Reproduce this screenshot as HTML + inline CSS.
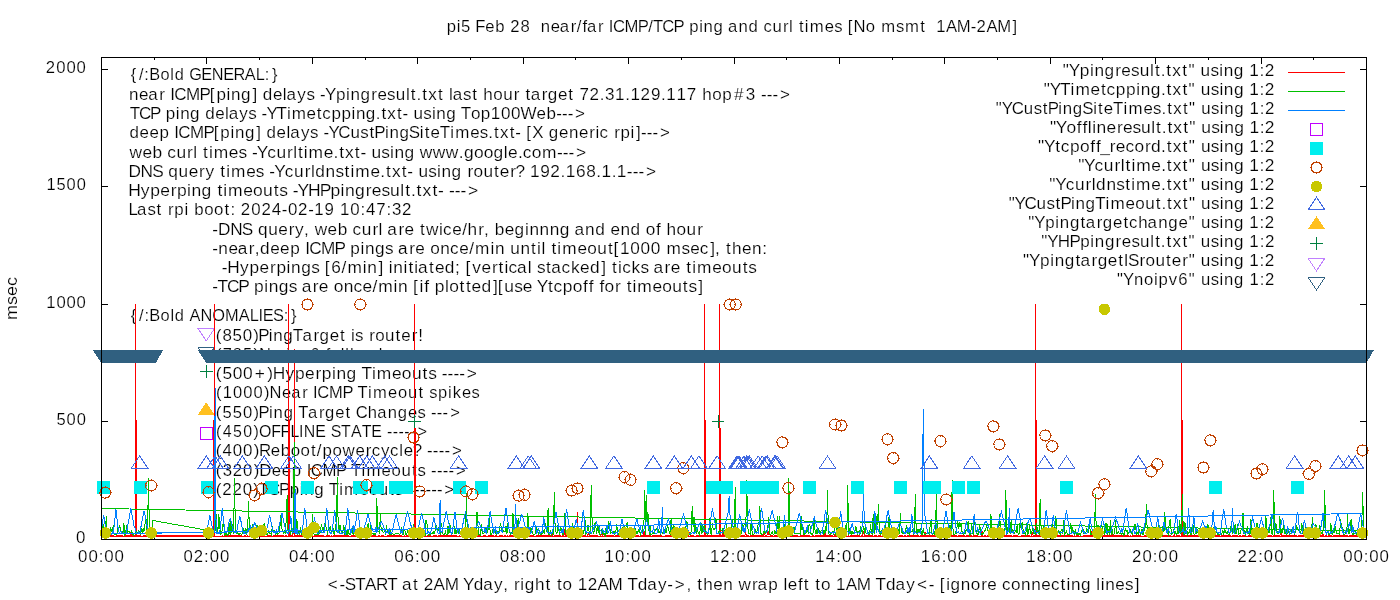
<!DOCTYPE html>
<html><head><meta charset="utf-8"><style>
html,body{margin:0;padding:0;background:#fff;width:1400px;height:600px;overflow:hidden}
svg{display:block}
text{font-family:"Liberation Sans",sans-serif;font-size:16px;fill:#000;stroke:#fff;stroke-width:0.17px}
</style></head><body>
<svg width="1400" height="600" viewBox="0 0 1400 600">
<rect width="1400" height="600" fill="#fff"/>
<g id="txt" opacity="0.999">
<text transform="scale(1.0433,1)" x="428.20 437.74 441.97 451.53 455.64 465.21 474.80 484.19 489.03 498.92 508.42 513.27 518.33 527.84 536.60 547.05 552.90 558.35 562.70 573.16 578.86 583.53 587.46 598.56 611.30 621.33 625.89 634.88 645.58 655.46 660.59 670.12 674.42 683.97 693.54 697.84 707.94 717.48 727.06 731.72 740.43 750.51 756.35 760.45 765.82 771.41 776.10 790.42 799.60 807.66 812.47 818.17 829.87 839.18 844.62 858.75 867.41 882.18 887.63 892.48 897.44 906.69 917.16 930.48 936.09 945.46 955.93 970.51" y="32" xml:space="preserve">pi5 Feb 28  near/far ICMP/TCP ping and curl times [No msmt  1AM-2AM]</text>
<text transform="scale(1.0696,1)" x="306.48 317.49 322.37 332.09 341.36 351.51 361.97 371.60 375.79 386.09 391.46 396.19 405.41 415.70 429.00 432.86 443.01 451.89 461.95 470.41 475.33 480.65 486.43 490.51 500.13 510.01 515.38 520.67 526.02 535.22 540.07 549.51 558.73 569.02 582.32 586.63 596.33 605.21 615.27 623.76 630.74 641.72 646.65 651.93 657.46 666.86 676.23 685.57 690.53 703.16 708.21 718.24 727.52 732.44 736.50 746.15 751.51 756.87 762.16 767.52 776.72 781.57 790.67 800.97 814.27 818.58 828.27 837.15 847.21 857.27 868.28 873.82 878.54 884.60 888.68 898.33 907.65 917.39 923.06 932.26 936.81 945.27 954.65 964.16 973.54 982.52 991.51 997.03 1001.22 1010.63 1020.09 1025.01 1029.19 1033.38 1042.76 1051.81 1060.91" y="590" xml:space="preserve">&lt;-START at 2AM Yday, right to 12AM Tday-&gt;, then wrap left to 1AM Tday&lt;- [ignore connecting lines]</text>
<text transform="scale(1.0541,1)" x="72.04" y="543" xml:space="preserve">0</text>
<text transform="scale(1.0345,1)" x="54.57 64.36 74.10" y="425" xml:space="preserve">500</text>
<text transform="scale(1.0432,1)" x="44.40 54.14 63.79 73.45" y="308" xml:space="preserve">1000</text>
<text transform="scale(1.0281,1)" x="45.12 54.94 64.80 74.59" y="190" xml:space="preserve">1500</text>
<text transform="scale(1.0450,1)" x="43.88 53.81 63.55 73.28" y="73" xml:space="preserve">2000</text>
<text transform="scale(1.0555,1)" x="73.99 83.77 93.48 98.72 108.50" y="562" xml:space="preserve">00:00</text>
<text transform="scale(1.0467,1)" x="175.35 185.01 194.98 200.29 210.15" y="562" xml:space="preserve">02:00</text>
<text transform="scale(1.0555,1)" x="273.74 283.51 293.23 298.47 308.25" y="562" xml:space="preserve">04:00</text>
<text transform="scale(1.0640,1)" x="370.58 380.28 389.93 395.11 404.81" y="562" xml:space="preserve">06:00</text>
<text transform="scale(1.0581,1)" x="472.28 482.04 491.73 496.95 506.71" y="562" xml:space="preserve">08:00</text>
<text transform="scale(1.0451,1)" x="578.41 588.52 598.43 603.87 613.90" y="562" xml:space="preserve">10:00</text>
<text transform="scale(1.0360,1)" x="685.25 695.24 705.43 710.93 721.06" y="562" xml:space="preserve">12:00</text>
<text transform="scale(1.0452,1)" x="780.03 790.14 800.05 805.49 815.53" y="562" xml:space="preserve">14:00</text>
<text transform="scale(1.0538,1)" x="873.72 883.76 893.60 898.98 908.93" y="562" xml:space="preserve">16:00</text>
<text transform="scale(1.0478,1)" x="979.34 989.42 999.31 1004.73 1014.74" y="562" xml:space="preserve">18:00</text>
<text transform="scale(1.0467,1)" x="1081.43 1091.52 1101.31 1106.64 1116.52" y="562" xml:space="preserve">20:00</text>
<text transform="scale(1.0378,1)" x="1192.34 1202.31 1212.37 1217.76 1227.73" y="562" xml:space="preserve">22:00</text>
<text transform="scale(1.0555,1)" x="1272.52 1282.29 1292.01 1297.25 1307.03" y="562" xml:space="preserve">00:00</text>
<text transform="scale(1.0194,1)" x="128.36 136.38 141.63 146.46 157.48 167.08 171.41 181.16 185.66 197.46 207.81 218.95 229.14 240.06 250.95 259.81 266.95" y="80" xml:space="preserve">{/:Bold GENERAL:}</text>
<text transform="scale(1.0661,1)" x="120.93 130.35 139.00 149.37 155.02 159.64 163.49 174.46 187.09 196.85 203.04 212.50 216.73 226.17 236.81 241.56 246.42 255.97 265.34 268.81 278.91 287.42 295.41 300.09 304.74 315.11 324.58 328.81 338.25 348.30 354.00 363.09 371.21 380.79 385.35 390.74 396.06 401.71 410.90 416.29 421.23 424.70 434.38 442.89 448.28 453.24 462.63 471.99 481.97 487.62 492.93 497.75 508.12 513.84 523.39 533.14 538.53 543.46 552.89 562.51 567.50 576.99 586.49 591.38 600.86 610.60 620.07 624.96 634.55 644.20 653.65 658.61 668.00 677.48 688.50 699.63 709.03 713.71 719.15 724.59 731.62" y="100" xml:space="preserve">near ICMP[ping] delays -Ypingresult.txt last hour target 72.31.129.117 hop#3 ---&gt;</text>
<text transform="scale(1.0662,1)" x="121.62 130.37 140.80 150.52 155.45 164.82 168.95 178.26 187.65 192.41 201.81 211.09 214.46 224.43 232.80 240.71 245.31 249.85 259.38 269.10 273.54 287.55 297.19 302.27 310.89 320.32 329.69 333.82 343.13 352.51 357.75 363.29 372.37 377.56 383.04 387.85 397.02 405.08 409.20 418.51 427.90 432.14 441.66 451.00 460.27 469.81 479.26 488.23 503.28 512.62 521.72 527.08 532.44 539.33" y="119" xml:space="preserve">TCP ping delays -YTimetcpping.txt- using Top100Web---&gt;</text>
<text transform="scale(1.0588,1)" x="122.20 131.78 141.09 150.61 159.95 164.59 168.46 179.47 192.13 201.92 208.13 217.62 221.87 231.34 242.01 246.77 251.66 261.24 270.64 274.13 284.26 292.79 300.81 305.50 310.18 319.55 331.01 340.34 348.87 353.58 363.56 367.81 377.28 386.17 396.56 401.14 406.60 415.41 425.25 429.86 444.09 453.21 461.22 466.56 472.23 481.45 486.74 492.32 497.08 502.67 513.40 518.29 527.86 537.31 546.76 556.57 562.39 566.24 574.76 580.12 586.05 595.54 600.74 605.38 610.84 616.30 623.36" y="138" xml:space="preserve">deep ICMP[ping] delays -YCustPingSiteTimes.txt- [X generic rpi]---&gt;</text>
<text transform="scale(1.0848,1)" x="119.45 131.37 140.62 149.78 154.21 162.62 172.39 178.08 182.02 187.21 192.63 196.99 210.90 219.79 227.63 232.19 236.67 246.37 254.78 264.55 270.24 274.69 280.11 284.47 298.38 307.43 312.63 318.10 327.11 332.25 337.69 342.44 351.52 359.53 363.59 372.81 382.13 386.93 398.97 411.01 422.93 427.64 436.90 445.91 455.00 464.47 468.40 477.46 481.89 490.18 499.67 513.46 518.77 524.08 530.90" y="158" xml:space="preserve">web curl times -Ycurltime.txt- using www.google.com---&gt;</text>
<text transform="scale(1.0791,1)" x="118.98 130.26 141.07 151.20 155.97 165.47 174.83 184.50 190.35 198.91 204.15 209.63 214.09 228.13 237.11 245.03 249.64 254.20 263.99 272.50 282.38 288.11 292.15 301.71 310.83 319.25 324.73 329.20 343.23 352.37 357.62 363.17 372.27 377.47 382.96 387.79 396.97 405.04 409.18 418.51 427.91 433.17 438.73 447.96 457.82 463.16 472.83 477.76 486.32 491.11 500.62 509.94 519.46 524.26 533.81 543.29 552.61 557.40 566.81 571.61 580.90 586.28 591.65 598.56" y="177" xml:space="preserve">DNS query times -Ycurldnstime.txt- using router? 192.168.1.1---&gt;</text>
<text transform="scale(1.0939,1)" x="117.14 128.77 137.41 146.52 156.07 161.78 171.06 175.10 184.29 193.59 198.76 204.16 208.49 222.35 231.33 240.43 250.17 255.24 263.06 267.60 272.05 281.60 292.22 302.04 311.32 315.36 324.55 334.36 339.87 348.72 356.61 366.00 370.42 375.67 380.84 386.29 395.27 400.39 405.81 410.35 415.64 420.94 427.72" y="196" xml:space="preserve">Hyperping timeouts -YHPpingresult.txt- ---&gt;</text>
<text transform="scale(1.0541,1)" x="121.96 130.02 139.84 148.46 153.94 159.38 165.41 174.98 179.09 184.26 193.71 203.09 212.96 218.59 223.60 228.47 238.42 247.97 257.91 267.34 273.19 282.73 292.36 298.13 307.91 317.49 322.49 332.32 342.01 347.22 356.94 366.66 371.90 381.42" y="215" xml:space="preserve">Last rpi boot: 2024-02-19 10:47:32</text>
<text transform="scale(1.0768,1)" x="197.12 202.46 213.76 224.60 234.74 239.53 249.06 258.44 268.13 273.99 282.41 287.30 292.21 304.27 313.66 322.90 327.42 335.95 345.84 351.59 355.58 359.73 370.00 375.63 384.79 390.04 395.55 407.74 411.50 419.95 429.25 434.28 444.13 449.58 454.47 459.44 468.71 477.92 487.49 491.65 501.10 510.56 519.91 529.33 533.47 543.38 552.72 562.14 566.91 576.23 585.57 594.99 599.71 609.31 614.12 619.00 628.29 637.54 647.44" y="235" xml:space="preserve">-DNS query, web curl are twice/hr, beginnng and end of hour</text>
<text transform="scale(1.0740,1)" x="197.63 203.34 212.71 221.32 231.64 237.11 242.09 251.59 260.82 270.26 279.54 284.13 287.94 298.85 311.42 321.20 326.21 335.64 339.83 349.23 358.54 366.50 370.69 381.01 386.67 395.86 400.61 409.98 419.10 427.60 436.94 442.37 456.62 460.81 470.14 475.02 484.59 494.44 499.96 504.12 508.14 513.43 518.95 523.48 537.61 546.79 556.10 566.01 571.33 577.30 586.93 596.48 606.02 615.41 620.70 634.64 642.64 651.62 661.22 665.78 670.71 675.99 681.51 690.90 700.27 709.75" y="254" xml:space="preserve">-near,deep ICMP pings are once/min until timeout[1000 msec], then:</text>
<text transform="scale(1.0800,1)" x="205.31 210.51 222.32 231.12 240.40 250.10 255.93 265.33 269.49 278.85 288.12 296.06 300.75 306.78 316.27 321.66 335.86 340.02 350.46 355.15 360.05 364.21 373.67 378.18 383.67 387.07 397.33 402.70 411.91 421.19 426.37 431.07 437.21 445.81 455.51 461.63 467.12 470.89 478.73 488.63 492.63 497.22 505.67 510.42 519.94 528.65 537.05 546.27 556.82 561.52 566.78 572.28 576.05 584.76 592.98 600.91 605.06 615.34 620.97 630.14 635.40 640.89 645.39 659.46 668.60 677.86 687.74 692.93" y="273" xml:space="preserve">-Hyperpings [6/min] initiated; [vertical stacked] ticks are timeouts</text>
<text transform="scale(1.0871,1)" x="195.21 200.16 208.84 219.20 228.87 233.76 243.08 247.16 256.40 265.57 273.43 277.50 287.68 293.22 302.30 306.94 316.15 325.12 333.48 342.70 347.97 362.06 366.13 375.35 379.98 385.95 390.33 395.09 399.97 409.29 413.18 422.77 428.56 433.83 442.94 453.40 457.97 463.86 472.97 480.82 489.90 493.64 504.11 509.14 517.70 526.81 536.33 541.52 546.28 551.41 556.11 565.71 571.25 576.45 581.89 586.27 600.20 609.22 618.37 628.16 633.26 642.25" y="292" xml:space="preserve">-TCP pings are once/min [if plotted][use Ytcpoff for timeouts]</text>
<text transform="scale(1.0240,1)" x="127.78 135.79 141.03 145.85 156.86 166.44 170.77 180.51 185.18 195.88 207.38 219.77 233.12 244.00 252.52 256.57 266.55 277.14 284.27" y="321" xml:space="preserve">{/:Bold ANOMALIES:}</text>
<text transform="scale(1.0611,1)" x="203.37 209.71 219.22 228.85 238.77 243.41 253.36 257.57 266.99 276.02 285.09 295.44 301.15 310.67 320.41 325.79 330.72 334.61 342.59 347.92 353.55 362.89 372.82 378.25 388.01 394.28" y="341" xml:space="preserve">(850)PingTarget is router!</text>
<text transform="scale(1.0251,1)" x="210.61 217.20 227.15 237.01 247.27 252.63 264.57 274.04 279.14 283.68 293.59 302.71 312.38 317.81 322.32 332.52 336.85 341.40 350.45 360.36 369.48" y="360" xml:space="preserve">(785)No ipv6 fallback</text>
<text transform="scale(1.0856,1)" x="198.72 204.91 214.43 223.90 234.65 246.19 251.16 262.93 271.70 280.94 290.61 296.41 305.79 309.92 319.24 328.64 332.89 342.61 347.07 361.09 370.19 379.42 389.27 394.43 402.34 406.95 412.32 417.69 423.05 429.96" y="379" xml:space="preserve">(500+)Hyperping Timeouts ----&gt;</text>
<text transform="scale(1.0330,1)" x="209.00 215.53 225.53 235.44 245.36 255.55 260.90 272.89 281.85 292.50 298.31 303.09 307.19 318.55 331.57 341.59 346.17 356.21 361.11 375.70 385.24 394.91 405.12 410.69 415.56 424.11 433.80 438.38 447.14 456.52" y="398" xml:space="preserve">(1000)Near ICMP Timeout spikes</text>
<text transform="scale(1.0392,1)" x="207.72 214.19 224.00 233.87 243.98 248.82 258.92 263.30 272.95 282.62 287.12 296.41 306.96 312.84 322.61 332.53 338.04 342.24 353.93 362.95 373.17 382.83 392.59 401.87 410.01 414.80 420.37 425.93 433.16" y="418" xml:space="preserve">(550)Ping Target Changes ---&gt;</text>
<text transform="scale(0.9968,1)" x="216.69 223.54 233.70 243.98 254.41 259.91 272.17 281.41 291.31 300.02 304.84 316.33 327.11 331.73 342.10 352.04 362.90 372.39 383.16 388.17 393.97 399.77 405.56 411.36 418.97" y="437" xml:space="preserve">(450)OFFLINE STATE -----&gt;</text>
<text transform="scale(1.0575,1)" x="204.07 210.50 220.18 229.87 239.88 244.86 255.95 265.53 274.92 284.24 294.06 299.65 304.91 314.31 323.85 336.13 345.99 351.49 360.36 368.87 377.57 381.73 390.41 399.11 403.83 409.33 414.82 420.31 427.43" y="456" xml:space="preserve">(400)Reboot/powercycle? ----&gt;</text>
<text transform="scale(1.0489,1)" x="205.77 212.28 221.81 231.77 241.83 247.23 259.18 268.62 278.27 287.70 292.40 296.37 307.54 320.36 330.28 334.74 344.67 349.41 363.80 373.18 382.70 392.78 398.15 406.25 411.01 416.55 422.08 427.61 434.79" y="476" xml:space="preserve">(320)Deep ICMP Timeouts ----&gt;</text>
<text transform="scale(1.0566,1)" x="204.23 210.39 219.99 229.79 239.73 244.66 253.55 264.14 274.21 283.68 287.91 297.36 306.87 311.21 321.03 325.62 339.81 349.05 358.41 368.36 373.62 381.62 386.30 391.75 397.19 402.63 408.08 413.52 420.55" y="495" xml:space="preserve">(220)TCPping Timeouts ------&gt;</text>
<text transform="scale(1.0776,1)" x="986.26 991.77 1002.06 1011.48 1015.65 1025.01 1034.98 1040.62 1049.64 1057.69 1067.21 1071.73 1077.08 1082.35 1087.94 1097.06 1102.86 1109.29 1114.15 1123.37 1131.47 1135.64 1145.00 1154.44 1159.26 1168.85 1173.70" y="76" xml:space="preserve">"Ypingresult.txt" using 1:2</text>
<text transform="scale(1.0802,1)" x="966.33 971.81 981.36 991.09 995.55 1009.60 1019.25 1024.35 1032.99 1042.44 1051.83 1055.97 1065.30 1074.70 1079.95 1085.51 1094.60 1100.37 1106.78 1111.61 1120.80 1128.87 1133.01 1142.34 1151.74 1156.53 1166.10 1170.92" y="95" xml:space="preserve">"YTimetcpping.txt" using 1:2</text>
<text transform="scale(1.0526,1)" x="946.11 951.75 961.17 972.68 982.05 990.62 995.36 1005.37 1009.65 1019.17 1028.10 1038.52 1043.12 1048.62 1057.47 1067.34 1072.00 1086.29 1095.45 1103.49 1108.85 1114.56 1123.80 1129.70 1136.23 1141.20 1150.57 1158.76 1163.05 1172.56 1182.12 1187.06 1196.77 1201.73" y="114" xml:space="preserve">"YCustPingSiteTimes.txt" using 1:2</text>
<text transform="scale(1.0893,1)" x="963.90 969.24 979.08 988.55 993.70 998.57 1002.65 1006.67 1015.81 1025.35 1030.84 1039.68 1047.55 1056.93 1061.34 1066.57 1071.74 1077.17 1086.14 1091.80 1098.11 1102.82 1111.86 1119.83 1123.86 1133.03 1142.31 1146.98 1156.42 1161.12" y="133" xml:space="preserve">"Yofflineresult.txt" using 1:2</text>
<text transform="scale(1.0827,1)" x="958.73 964.17 974.68 979.75 988.35 997.50 1007.06 1012.28 1016.22 1025.00 1030.58 1039.46 1047.80 1057.44 1063.05 1072.42 1077.65 1083.18 1092.24 1097.98 1104.36 1109.16 1118.31 1126.36 1130.47 1139.76 1149.13 1153.89 1163.42 1168.21" y="152" xml:space="preserve">"Ytcpoff_record.txt" using 1:2</text>
<text transform="scale(1.0846,1)" x="994.09 999.51 1009.25 1017.70 1027.52 1033.23 1037.70 1043.14 1047.55 1061.51 1070.60 1075.81 1081.32 1090.37 1096.09 1102.46 1107.24 1116.37 1124.40 1128.49 1137.76 1147.11 1151.85 1161.37 1166.13" y="171" xml:space="preserve">"Ycurltime.txt" using 1:2</text>
<text transform="scale(1.0783,1)" x="973.06 978.54 988.34 996.85 1006.72 1012.46 1016.49 1026.05 1035.18 1043.60 1049.08 1053.55 1067.59 1076.72 1081.97 1087.53 1096.62 1102.39 1108.80 1113.62 1122.81 1130.88 1135.02 1144.34 1153.75 1158.53 1168.10 1172.91" y="190" xml:space="preserve">"Ycurldnstime.txt" using 1:2</text>
<text transform="scale(1.0649,1)" x="947.21 952.76 962.06 973.45 982.71 991.20 995.84 1005.78 1009.98 1019.39 1028.40 1038.18 1042.73 1056.87 1066.06 1075.38 1085.31 1090.67 1095.97 1101.59 1110.75 1116.57 1123.03 1127.92 1137.18 1145.30 1149.50 1158.91 1168.38 1173.23 1182.86 1187.74" y="209" xml:space="preserve">"YCustPingTimeout.txt" using 1:2</text>
<text transform="scale(1.0555,1)" x="974.18 979.84 990.30 999.83 1004.12 1013.65 1023.74 1028.63 1039.07 1044.86 1054.50 1064.32 1069.57 1078.32 1087.22 1097.31 1106.84 1116.48 1126.24 1132.78 1137.76 1147.14 1155.34 1159.63 1169.16 1178.73 1183.68 1193.40 1198.37" y="228" xml:space="preserve">"Ypingtargetchange" using 1:2</text>
<text transform="scale(1.0619,1)" x="980.66 986.28 996.16 1007.12 1017.23 1026.73 1030.99 1040.48 1050.57 1056.30 1065.44 1073.60 1083.21 1087.80 1093.21 1098.56 1104.25 1113.47 1119.35 1125.86 1130.81 1140.15 1148.33 1152.59 1162.07 1171.61 1176.53 1186.22 1191.16" y="247" xml:space="preserve">"YHPpingresult.txt" using 1:2</text>
<text transform="scale(1.0719,1)" x="954.48 960.01 970.32 979.74 983.92 993.30 1003.27 1008.04 1018.35 1024.03 1033.51 1043.21 1048.40 1052.33 1063.03 1068.63 1077.93 1087.83 1093.22 1102.94 1109.01 1115.46 1120.33 1129.56 1137.67 1141.85 1151.23 1160.68 1165.52 1175.12 1179.98" y="266" xml:space="preserve">"YpingtargetISrouter" using 1:2</text>
<text transform="scale(1.0440,1)" x="1070.00 1075.74 1086.25 1095.81 1105.33 1109.78 1119.57 1128.57 1138.62 1145.23 1150.30 1159.78 1168.05 1172.42 1182.06 1191.72 1196.75 1206.56 1211.61" y="285" xml:space="preserve">"Ynoipv6" using 1:2</text>
<text transform="translate(17,320.00) rotate(-90)" textLength="43.00" lengthAdjust="spacingAndGlyphs" xml:space="preserve">msec</text>
</g>
<g id="ticks" shape-rendering="crispEdges"><path d="M101 539.5h7M1366 539.5h-6 M101 421.5h7M1366 421.5h-6 M101 304.5h7M1366 304.5h-6 M101 186.5h7M1366 186.5h-6 M101 69.5h7M1366 69.5h-6 M101.5 539v-7M101.5 57v7 M154.5 539v-3M154.5 57v3 M206.5 539v-7M206.5 57v7 M259.5 539v-3M259.5 57v3 M312.5 539v-7M312.5 57v7 M365.5 539v-3M365.5 57v3 M417.5 539v-7M417.5 57v7 M470.5 539v-3M470.5 57v3 M523.5 539v-7M523.5 57v7 M575.5 539v-3M575.5 57v3 M628.5 539v-7M628.5 57v7 M681.5 539v-3M681.5 57v3 M734.5 539v-7M734.5 57v7 M786.5 539v-3M786.5 57v3 M839.5 539v-7M839.5 57v7 M892.5 539v-3M892.5 57v3 M944.5 539v-7M944.5 57v7 M997.5 539v-3M997.5 57v3 M1050.5 539v-7M1050.5 57v7 M1102.5 539v-3M1102.5 57v3 M1155.5 539v-7M1155.5 57v7 M1208.5 539v-3M1208.5 57v3 M1261.5 539v-7M1261.5 57v7 M1313.5 539v-3M1313.5 57v3 M1366.5 539v-7M1366.5 57v7" stroke="#000"/></g>
<g id="lbl" shape-rendering="crispEdges"><path d="M1288 72.3H1345" stroke="#ff0000"/>
<path d="M1288 91.3H1345" stroke="#00c000"/>
<path d="M1288 110.4H1345" stroke="#0080ff"/>
<rect x="1310.75" y="123.64" width="11.5" height="11.5" fill="none" stroke="#c000ff"/>
<rect x="1310.25" y="142.17" width="12.5" height="12.5" fill="#00eeee"/>
<circle cx="1316.5" cy="167.45" r="5.5" fill="none" stroke="#c04000"/><path d="M1310.0 167.45h2M1321.0 167.45h2M1316.5 160.9v2M1316.5 171.9v2" stroke="#c04000"/>
<circle cx="1316.5" cy="186.48000000000002" r="5.8" fill="#c8c800"/>
<polygon points="1316.5,197.18 1308.17,209.68 1324.83,209.68" fill="none" stroke="#4169e1"/>
<polygon points="1316.5,216.21 1308.17,228.71 1324.83,228.71" fill="#ffc020"/>
<path d="M1310.25 243.57H1322.75M1316.5 237.32V249.82" stroke="#008040"/>
<polygon points="1316.5,270.93 1308.17,258.43 1324.83,258.43" fill="none" stroke="#c080ff"/>
<polygon points="1316.5,289.96 1308.17,277.46 1324.83,277.46" fill="none" stroke="#306080"/>
<polygon points="206.25,340.83 197.92,328.33 214.58,328.33" fill="none" stroke="#c080ff"/>
<polygon points="206.25,359.63 197.92,347.13 214.58,347.13" fill="none" stroke="#306080"/>
<path d="M200.00 371.7H212.50M206.25 365.45V377.95" stroke="#008040"/>
<polygon points="206.25,402.27 197.92,414.77 214.58,414.77" fill="#ffc020"/>
<rect x="200.50" y="427.65" width="11.5" height="11.5" fill="none" stroke="#c000ff"/></g>
<g id="data" shape-rendering="crispEdges">
<polyline points="101.0,535.1 101.9,535.2 102.8,536.0 103.6,535.7 104.5,536.2 105.4,536.2 106.3,536.2 107.1,535.7 108.0,535.1 108.9,535.9 109.8,535.7 110.7,536.0 111.5,535.2 112.4,535.3 113.3,535.5 114.2,536.3 115.1,535.9 115.9,536.2 116.8,535.5 117.7,536.3 118.6,535.9 119.4,535.2 120.3,535.2 121.2,535.5 122.1,535.2 123.0,536.0 123.8,536.2 124.7,535.9 125.6,535.8 126.5,535.8 127.4,535.2 128.2,535.5 129.1,535.4 130.0,535.6 130.9,532.4 131.7,536.2 132.6,535.7 133.5,536.2 134.4,535.5 135.3,535.2 136.1,535.5 137.0,536.4 137.9,535.6 138.8,535.9 139.7,536.0 140.5,535.5 141.4,536.2 142.3,536.3 143.2,535.9 144.0,535.5 144.9,536.1 145.8,535.9 146.7,535.7 147.6,535.2 148.4,535.4 149.3,536.0 150.2,536.4 151.1,536.2 152.0,535.7 152.8,535.4 206.4,535.4 207.3,535.4 208.2,536.2 209.1,535.9 209.9,535.3 210.8,535.4 211.7,533.6 212.6,535.2 213.4,536.4 214.3,533.0 215.2,536.3 216.1,536.3 217.0,536.3 217.8,536.2 218.7,536.1 219.6,536.1 220.5,536.1 221.4,536.3 222.2,535.8 223.1,536.2 224.0,536.2 224.9,535.3 225.7,535.4 226.6,535.2 227.5,536.0 228.4,535.8 229.3,536.2 230.1,535.5 231.0,535.2 231.9,535.8 232.8,535.7 233.6,535.4 234.5,535.4 235.4,535.9 236.3,535.3 237.2,535.7 238.0,536.4 238.9,535.8 239.8,535.7 240.7,536.1 241.6,535.4 242.4,536.1 243.3,536.3 244.2,535.9 245.1,535.8 245.9,535.7 246.8,536.4 247.7,535.8 248.6,536.1 249.5,535.5 250.3,535.6 251.2,535.5 252.1,535.6 253.0,535.1 253.9,536.2 254.7,535.1 255.6,535.7 256.5,535.2 257.4,535.7 258.2,535.2 259.1,535.4 260.0,535.7 260.9,535.6 261.8,535.9 262.6,535.7 263.5,535.8 264.4,536.0 265.3,536.4 266.2,536.4 267.0,536.2 267.9,535.8 268.8,536.1 269.7,535.6 270.5,535.2 271.4,535.1 272.3,536.1 273.2,536.2 274.1,535.3 274.9,535.3 275.8,535.2 276.7,536.0 277.6,535.9 278.5,535.3 279.3,536.1 280.2,535.4 281.1,535.6 282.0,535.2 282.8,535.2 283.7,535.9 284.6,536.4 285.5,535.2 286.4,535.7 287.2,536.4 288.1,535.9 289.0,535.2 289.9,535.3 290.8,535.2 291.6,535.6 292.5,535.6 293.4,530.1 294.3,536.3 295.1,535.5 296.0,535.5 296.9,535.2 297.8,536.2 298.7,535.9 299.5,535.3 300.4,536.0 301.3,535.5 302.2,535.6 303.0,535.6 303.9,535.5 304.8,536.1 305.7,536.2 306.6,535.8 307.4,535.1 308.3,536.3 309.2,535.5 310.1,536.3 311.0,535.9 311.8,535.2 312.7,535.8 313.6,536.3 314.5,535.4 315.3,535.6 316.2,535.3 317.1,536.4 318.0,535.7 318.9,536.2 319.7,535.7 320.6,535.8 321.5,535.3 322.4,535.2 323.3,535.9 324.1,536.1 325.0,536.0 325.9,536.4 326.8,535.9 327.6,535.8 328.5,535.6 329.4,535.9 330.3,536.3 331.2,536.0 332.0,535.9 332.9,536.2 333.8,535.6 334.7,536.1 335.6,535.6 336.4,535.4 337.3,536.1 338.2,535.7 339.1,535.8 339.9,535.8 340.8,535.5 341.7,535.4 342.6,536.0 343.5,535.4 344.3,535.3 345.2,536.2 346.1,535.1 347.0,535.2 347.9,535.8 348.7,536.0 349.6,536.1 350.5,536.1 351.4,536.0 352.2,535.2 353.1,535.4 354.0,536.1 354.9,535.7 355.8,535.3 356.6,535.2 357.5,535.7 358.4,535.2 359.3,535.9 360.1,535.8 361.0,535.7 361.9,535.9 362.8,535.7 363.7,535.3 364.5,535.7 365.4,535.6 366.3,535.3 367.2,535.3 368.1,535.7 368.9,535.4 369.8,536.2 370.7,535.7 371.6,536.0 372.4,535.8 373.3,536.0 374.2,535.8 375.1,535.3 376.0,536.1 376.8,536.0 377.7,536.0 378.6,535.3 379.5,535.7 380.4,536.2 381.2,536.1 382.1,535.2 383.0,535.7 383.9,536.2 384.7,536.2 385.6,536.4 386.5,536.4 387.4,535.7 388.3,535.7 389.1,535.3 390.0,535.3 390.9,535.5 391.8,535.6 392.7,535.6 393.5,535.3 394.4,535.3 395.3,536.1 396.2,535.1 397.0,536.1 397.9,535.8 398.8,535.4 399.7,535.8 400.6,535.6 401.4,535.2 402.3,536.1 403.2,536.2 404.1,535.8 405.0,535.9 405.8,536.4 406.7,535.5 407.6,535.9 408.5,536.0 409.3,535.4 410.2,536.3 411.1,535.8 412.0,535.5 412.9,535.5 413.7,535.6 414.6,535.4 415.5,536.2 416.4,536.2 417.2,536.1 418.1,536.3 419.0,535.5 419.9,535.9 420.8,535.6 421.6,535.9 422.5,536.2 423.4,535.7 424.3,535.9 425.2,535.9 426.0,536.0 426.9,536.1 427.8,535.3 428.7,535.4 429.5,535.9 430.4,535.4 431.3,536.1 432.2,536.3 433.1,535.8 433.9,535.3 434.8,535.9 435.7,536.0 436.6,535.9 437.5,536.2 438.3,535.5 439.2,535.5 440.1,535.3 441.0,535.4 441.8,536.3 442.7,535.4 443.6,535.4 444.5,536.1 445.4,535.7 446.2,535.8 447.1,535.2 448.0,535.1 448.9,535.4 449.8,535.6 450.6,535.8 451.5,535.5 452.4,535.2 453.3,535.4 454.1,535.1 455.0,536.1 455.9,535.9 456.8,535.6 457.7,536.3 458.5,536.2 459.4,535.9 460.3,536.0 461.2,536.1 462.1,535.2 462.9,535.5 463.8,536.0 464.7,535.2 465.6,535.8 466.4,536.3 467.3,535.8 468.2,535.7 469.1,535.8 470.0,535.2 470.8,535.7 471.7,535.4 472.6,535.6 473.5,535.4 474.4,535.3 475.2,536.1 476.1,535.5 477.0,535.7 477.9,535.1 478.7,535.2 479.6,536.2 480.5,536.0 481.4,536.1 482.3,536.3 483.1,536.2 484.0,535.8 484.9,535.2 485.8,536.0 486.6,536.1 487.5,536.3 488.4,535.8 489.3,535.6 490.2,535.5 491.0,535.8 491.9,535.4 492.8,536.3 493.7,535.7 494.6,536.3 495.4,535.3 496.3,535.2 497.2,536.3 498.1,536.2 498.9,535.9 499.8,535.3 500.7,535.9 501.6,535.3 502.5,536.0 503.3,536.1 504.2,536.1 505.1,535.2 506.0,536.1 506.9,536.0 507.7,535.9 508.6,536.4 509.5,535.4 510.4,535.6 511.2,535.8 512.1,536.0 513.0,535.5 513.9,535.3 514.8,535.7 515.6,530.3 516.5,535.1 517.4,535.4 518.3,535.5 519.2,535.5 520.0,536.3 520.9,535.2 521.8,535.2 522.7,535.4 523.5,535.4 524.4,535.9 525.3,535.8 526.2,536.3 527.1,536.3 527.9,535.6 528.8,536.1 529.7,535.7 530.6,535.4 531.5,535.6 532.3,535.9 533.2,535.5 534.1,536.1 535.0,536.0 535.8,536.2 536.7,535.4 537.6,535.4 538.5,536.1 539.4,535.7 540.2,535.2 541.1,535.5 542.0,535.1 542.9,535.9 543.8,535.8 544.6,535.7 545.5,535.2 546.4,535.6 547.3,535.2 548.1,535.3 549.0,535.4 549.9,535.3 550.8,536.1 551.7,536.1 552.5,535.4 553.4,532.4 554.3,536.1 555.2,536.3 556.0,535.7 556.9,535.3 557.8,535.1 558.7,536.3 559.6,535.2 560.4,535.2 561.3,536.1 562.2,535.8 563.1,535.9 564.0,535.3 564.8,529.4 565.7,536.2 566.6,535.2 567.5,536.3 568.3,535.6 569.2,535.3 570.1,535.6 571.0,535.6 571.9,535.3 572.7,535.2 573.6,535.7 574.5,535.9 575.4,536.4 576.3,535.6 577.1,535.3 578.0,536.3 578.9,536.0 579.8,535.7 580.6,536.0 581.5,535.8 582.4,535.5 583.3,535.8 584.2,535.5 585.0,535.2 585.9,536.0 586.8,536.2 587.7,535.3 588.6,533.2 589.4,535.5 590.3,535.5 591.2,535.2 592.1,536.3 592.9,535.5 593.8,535.2 594.7,535.2 595.6,536.1 596.5,535.8 597.3,535.2 598.2,536.4 599.1,536.2 600.0,536.1 600.9,535.1 601.7,531.7 602.6,536.1 603.5,536.1 604.4,535.6 605.2,535.2 606.1,535.6 607.0,536.1 607.9,535.6 608.8,535.5 609.6,536.0 610.5,535.8 611.4,535.1 612.3,535.4 613.1,535.4 614.0,536.3 614.9,536.1 615.8,535.6 616.7,535.2 617.5,535.2 618.4,535.7 619.3,535.7 620.2,532.1 621.1,535.3 621.9,536.3 622.8,529.9 623.7,535.5 624.6,536.0 625.4,536.1 626.3,535.8 627.2,535.5 628.1,536.1 629.0,535.7 629.8,535.6 630.7,536.2 631.6,536.0 632.5,532.4 633.4,535.8 634.2,535.8 635.1,536.1 636.0,535.3 636.9,536.3 637.7,535.7 638.6,535.7 639.5,536.1 640.4,535.7 641.3,535.4 642.1,535.6 643.0,536.1 643.9,530.4 644.8,536.0 645.7,535.7 646.5,536.1 647.4,535.5 648.3,535.2 649.2,535.4 650.0,535.3 650.9,535.8 651.8,536.3 652.7,535.1 653.6,536.3 654.4,535.9 655.3,535.7 656.2,535.5 657.1,535.3 658.0,536.3 658.8,535.6 659.7,535.1 660.6,535.8 661.5,535.9 662.3,536.3 663.2,536.4 664.1,536.2 665.0,536.0 665.9,535.2 666.7,536.3 667.6,535.6 668.5,535.1 669.4,535.9 670.2,535.6 671.1,535.8 672.0,535.5 672.9,534.0 673.8,536.4 674.6,535.8 675.5,535.4 676.4,536.2 677.3,536.1 678.2,536.2 679.0,536.3 679.9,536.2 680.8,535.3 681.7,535.3 682.5,535.1 683.4,536.4 684.3,535.7 685.2,535.1 686.1,535.4 686.9,535.8 687.8,536.3 688.7,535.6 689.6,533.2 690.5,535.4 691.3,536.0 692.2,535.1 693.1,535.4 694.0,535.9 694.8,536.2 695.7,536.2 696.6,535.7 697.5,536.0 698.4,536.2 699.2,535.6 700.1,535.6 701.0,535.4 701.9,535.6 702.8,535.9 703.6,535.3 704.5,536.3 705.4,536.2 706.3,535.8 707.1,535.2 708.0,535.4 708.9,536.4 709.8,535.9 710.7,535.3 711.5,535.7 712.4,535.1 713.3,535.6 714.2,535.7 715.1,535.7 715.9,536.3 716.8,535.8 717.7,535.9 718.6,535.6 719.4,535.8 720.3,535.7 721.2,535.6 722.1,535.8 723.0,529.8 723.8,535.4 724.7,535.8 725.6,536.2 726.5,536.3 727.4,536.0 728.2,535.3 729.1,535.4 730.0,536.3 730.9,536.0 731.7,536.1 732.6,535.2 733.5,536.2 734.4,536.1 735.3,535.4 736.1,535.9 737.0,536.3 737.9,530.6 738.8,536.0 739.6,536.4 740.5,535.8 741.4,535.7 742.3,535.4 743.2,535.8 744.0,535.7 744.9,535.2 745.8,532.9 746.7,536.0 747.6,535.4 748.4,535.8 749.3,536.2 750.2,536.0 751.1,535.2 751.9,536.1 752.8,535.1 753.7,535.4 754.6,535.7 755.5,535.9 756.3,535.4 757.2,536.2 758.1,535.5 759.0,535.5 759.9,535.5 760.7,535.9 761.6,535.4 762.5,535.7 763.4,536.1 764.2,529.7 765.1,535.9 766.0,536.3 766.9,535.8 767.8,529.8 768.6,535.3 769.5,532.4 770.4,536.0 771.3,536.2 772.2,535.1 773.0,536.0 773.9,536.1 774.8,535.3 775.7,535.4 776.5,535.1 777.4,535.6 778.3,535.3 779.2,535.8 780.1,535.5 780.9,535.7 781.8,536.2 782.7,535.8 783.6,536.2 784.5,535.7 785.3,536.3 786.2,536.3 787.1,535.6 788.0,536.4 788.8,535.3 789.7,535.3 790.6,535.5 791.5,535.7 792.4,536.3 793.2,535.8 794.1,535.3 795.0,535.7 795.9,535.8 796.8,535.1 797.6,536.3 798.5,536.1 799.4,536.1 800.3,535.9 801.1,536.1 802.0,535.8 802.9,535.2 803.8,535.5 804.7,535.8 805.5,535.2 806.4,535.7 807.3,535.3 808.2,535.7 809.0,535.8 809.9,536.2 810.8,536.4 811.7,536.3 812.6,535.7 813.4,535.3 814.3,536.2 815.2,535.7 816.1,536.1 817.0,535.4 817.8,536.1 818.7,535.8 819.6,535.6 820.5,535.6 821.3,535.8 822.2,535.5 823.1,536.3 824.0,535.8 824.9,530.7 825.7,535.5 826.6,535.7 827.5,535.2 828.4,535.4 829.3,535.2 830.1,535.6 831.0,535.6 831.9,535.7 832.8,535.8 833.6,536.2 834.5,535.1 835.4,535.8 836.3,535.3 837.2,535.6 838.0,535.3 838.9,536.1 839.8,535.6 840.7,535.5 841.6,535.8 842.4,535.1 843.3,535.8 844.2,535.3 845.1,536.4 845.9,535.1 846.8,536.1 847.7,536.1 848.6,535.6 849.5,536.1 850.3,535.8 851.2,535.1 852.1,535.2 853.0,535.3 853.9,535.4 854.7,535.3 855.6,535.8 856.5,535.9 857.4,535.7 858.2,535.7 859.1,535.6 860.0,536.3 860.9,535.9 861.8,535.4 862.6,535.4 863.5,531.5 864.4,536.4 865.3,535.4 866.1,535.6 867.0,535.9 867.9,535.2 868.8,535.7 869.7,535.2 870.5,535.4 871.4,535.8 872.3,535.7 873.2,536.2 874.1,536.2 874.9,535.6 875.8,536.1 876.7,535.8 877.6,536.3 878.4,535.9 879.3,536.1 880.2,535.6 881.1,536.2 882.0,536.2 882.8,535.5 883.7,535.9 884.6,535.4 885.5,535.3 886.4,535.9 887.2,530.2 888.1,535.3 889.0,535.6 889.9,536.0 890.7,535.5 891.6,535.8 892.5,536.2 893.4,535.4 894.3,535.5 895.1,536.0 896.0,535.7 896.9,535.1 897.8,536.2 898.7,536.0 899.5,535.4 900.4,536.3 901.3,535.2 902.2,535.6 903.0,536.1 903.9,536.1 904.8,535.1 905.7,536.0 906.6,536.3 907.4,535.9 908.3,535.3 909.2,535.8 910.1,535.5 911.0,535.8 911.8,535.4 912.7,536.2 913.6,535.9 914.5,535.5 915.3,535.9 916.2,535.1 917.1,536.2 918.0,535.7 918.9,536.4 919.7,536.2 920.6,535.8 921.5,535.5 922.4,535.4 923.2,535.4 924.1,536.0 925.0,531.7 925.9,535.6 926.8,536.0 927.6,535.6 928.5,535.2 929.4,536.0 930.3,535.2 931.2,535.8 932.0,535.7 932.9,535.2 933.8,535.6 934.7,535.6 935.5,536.3 936.4,535.6 937.3,535.5 938.2,535.8 939.1,536.2 939.9,535.9 940.8,536.3 941.7,536.0 942.6,536.0 943.5,535.6 944.3,536.1 945.2,535.6 946.1,535.1 947.0,536.1 947.8,536.0 948.7,535.8 949.6,536.2 950.5,536.1 951.4,535.4 952.2,535.8 953.1,535.8 954.0,535.9 954.9,535.3 955.8,536.1 956.6,535.8 957.5,536.3 958.4,535.6 959.3,535.3 960.1,536.1 961.0,535.5 961.9,536.0 962.8,535.4 963.7,535.5 964.5,536.0 965.4,536.4 966.3,535.4 967.2,535.2 968.1,535.3 968.9,536.3 969.8,535.9 970.7,535.6 971.6,535.6 972.4,536.3 973.3,535.7 974.2,535.5 975.1,535.7 976.0,535.3 976.8,536.1 977.7,535.8 978.6,536.1 979.5,536.1 980.4,536.2 981.2,536.3 982.1,531.1 983.0,536.0 983.9,536.2 984.7,535.6 985.6,536.0 986.5,536.4 987.4,535.5 988.3,536.0 989.1,530.9 990.0,535.4 990.9,535.4 991.8,535.2 992.6,535.8 993.5,535.1 994.4,535.2 995.3,535.9 996.2,536.0 997.0,535.8 997.9,535.8 998.8,535.9 999.7,535.2 1000.6,536.3 1001.4,535.9 1002.3,535.2 1003.2,535.5 1004.1,535.2 1004.9,536.0 1005.8,535.7 1006.7,535.5 1007.6,535.4 1008.5,535.7 1009.3,535.8 1010.2,535.5 1011.1,535.3 1012.0,535.9 1012.9,536.2 1013.7,535.3 1014.6,535.1 1015.5,535.5 1016.4,536.0 1017.2,535.7 1018.1,536.1 1019.0,536.2 1019.9,536.3 1020.8,536.2 1021.6,535.6 1022.5,535.4 1023.4,535.2 1024.3,535.8 1025.2,535.8 1026.0,535.6 1026.9,536.3 1027.8,535.4 1028.7,535.4 1029.5,536.0 1030.4,536.2 1031.3,535.9 1032.2,531.9 1033.1,535.6 1033.9,535.6 1034.8,536.3 1035.7,535.4 1036.6,535.9 1037.5,535.9 1038.3,535.8 1039.2,535.5 1040.1,535.3 1041.0,535.4 1041.8,535.6 1042.7,536.1 1043.6,535.1 1044.5,530.1 1045.4,536.0 1046.2,535.2 1047.1,535.7 1048.0,535.6 1048.9,535.8 1049.8,531.7 1050.6,535.2 1051.5,535.1 1052.4,535.6 1053.3,536.3 1054.1,535.2 1055.0,535.4 1055.9,536.1 1056.8,535.8 1057.7,536.0 1058.5,535.7 1059.4,535.8 1060.3,536.3 1061.2,536.2 1062.0,535.4 1062.9,536.3 1063.8,535.8 1064.7,535.6 1065.6,535.8 1066.4,535.5 1067.3,535.8 1068.2,535.9 1069.1,535.9 1070.0,535.7 1070.8,535.2 1071.7,535.6 1072.6,535.1 1073.5,536.4 1074.3,535.7 1075.2,536.2 1076.1,536.4 1077.0,535.2 1077.9,535.4 1078.7,535.4 1079.6,536.4 1080.5,535.9 1081.4,536.1 1082.3,536.2 1083.1,536.0 1084.0,535.3 1084.9,536.2 1085.8,535.2 1086.6,535.8 1087.5,535.7 1088.4,535.8 1089.3,535.3 1090.2,535.8 1091.0,535.8 1091.9,530.7 1092.8,536.0 1093.7,536.1 1094.6,535.7 1095.4,536.3 1096.3,535.2 1097.2,535.6 1098.1,535.1 1098.9,536.0 1099.8,536.2 1100.7,535.7 1101.6,529.5 1102.5,535.2 1103.3,536.2 1104.2,535.2 1105.1,535.4 1106.0,535.7 1106.9,535.6 1107.7,535.7 1108.6,535.6 1109.5,535.3 1110.4,535.9 1111.2,536.3 1112.1,533.3 1113.0,536.1 1113.9,535.9 1114.8,535.8 1115.6,535.6 1116.5,535.5 1117.4,535.5 1118.3,535.7 1119.1,535.4 1120.0,535.3 1120.9,536.0 1121.8,535.5 1122.7,535.9 1123.5,535.5 1124.4,535.3 1125.3,536.1 1126.2,535.3 1127.1,535.9 1127.9,535.6 1128.8,536.3 1129.7,536.0 1130.6,535.7 1131.4,536.2 1132.3,536.2 1133.2,535.7 1134.1,535.9 1135.0,535.9 1135.8,535.2 1136.7,536.0 1137.6,535.9 1138.5,536.1 1139.4,535.4 1140.2,535.5 1141.1,536.3 1142.0,536.1 1142.9,536.3 1143.7,536.1 1144.6,535.4 1145.5,536.1 1146.4,535.9 1147.3,535.7 1148.1,536.3 1149.0,535.6 1149.9,536.0 1150.8,536.1 1151.7,535.5 1152.5,536.1 1153.4,535.8 1154.3,535.6 1155.2,536.2 1156.0,535.9 1156.9,536.3 1157.8,535.4 1158.7,536.3 1159.6,535.4 1160.4,535.5 1161.3,535.2 1162.2,535.7 1163.1,535.8 1164.0,535.1 1164.8,535.6 1165.7,535.5 1166.6,536.2 1167.5,535.3 1168.3,536.2 1169.2,536.4 1170.1,535.3 1171.0,536.3 1171.9,536.3 1172.7,536.1 1173.6,536.1 1174.5,535.1 1175.4,536.2 1176.2,536.4 1177.1,535.1 1178.0,536.4 1178.9,535.1 1179.8,536.1 1180.6,536.4 1181.5,535.6 1182.4,535.6 1183.3,535.5 1184.2,535.1 1185.0,535.9 1185.9,535.5 1186.8,536.1 1187.7,535.7 1188.5,535.9 1189.4,536.0 1190.3,535.4 1191.2,536.1 1192.1,535.6 1192.9,535.9 1193.8,535.5 1194.7,535.5 1195.6,536.0 1196.5,535.4 1197.3,535.3 1198.2,536.2 1199.1,535.7 1200.0,536.3 1200.8,530.1 1201.7,535.8 1202.6,536.0 1203.5,536.2 1204.4,535.6 1205.2,535.4 1206.1,535.2 1207.0,535.7 1207.9,536.3 1208.8,535.7 1209.6,535.9 1210.5,536.2 1211.4,535.5 1212.3,535.6 1213.1,535.5 1214.0,535.1 1214.9,536.1 1215.8,535.1 1216.7,535.2 1217.5,535.1 1218.4,535.7 1219.3,535.8 1220.2,536.1 1221.1,536.4 1221.9,535.4 1222.8,535.2 1223.7,536.4 1224.6,535.9 1225.4,535.9 1226.3,535.3 1227.2,535.6 1228.1,536.2 1229.0,535.2 1229.8,536.0 1230.7,535.7 1231.6,536.4 1232.5,535.3 1233.4,535.9 1234.2,535.3 1235.1,535.7 1236.0,535.6 1236.9,536.0 1237.7,535.5 1238.6,536.4 1239.5,535.8 1240.4,535.8 1241.3,536.2 1242.1,536.1 1243.0,535.5 1243.9,535.1 1244.8,535.9 1245.6,535.6 1246.5,536.1 1247.4,536.3 1248.3,535.8 1249.2,536.0 1250.0,535.7 1250.9,536.4 1251.8,536.1 1252.7,536.3 1253.6,536.2 1254.4,535.5 1255.3,535.4 1256.2,535.7 1257.1,535.9 1257.9,535.8 1258.8,536.2 1259.7,535.5 1260.6,536.0 1261.5,535.6 1262.3,535.5 1263.2,536.3 1264.1,536.2 1265.0,535.3 1265.9,535.9 1266.7,536.2 1267.6,535.7 1268.5,535.3 1269.4,535.6 1270.2,535.7 1271.1,536.1 1272.0,535.9 1272.9,536.2 1273.8,535.2 1274.6,535.8 1275.5,535.2 1276.4,535.6 1277.3,535.2 1278.2,535.2 1279.0,535.6 1279.9,535.8 1280.8,530.1 1281.7,536.3 1282.5,535.9 1283.4,535.7 1284.3,535.7 1285.2,535.9 1286.1,536.2 1286.9,535.1 1287.8,535.1 1288.7,536.1 1289.6,536.0 1290.5,536.1 1291.3,535.2 1292.2,535.4 1293.1,535.7 1294.0,535.8 1294.8,535.4 1295.7,535.4 1296.6,535.4 1297.5,536.2 1298.4,535.7 1299.2,535.6 1300.1,535.7 1301.0,535.6 1301.9,535.3 1302.8,535.1 1303.6,535.6 1304.5,535.3 1305.4,536.3 1306.3,536.3 1307.1,535.3 1308.0,536.4 1308.9,535.5 1309.8,529.6 1310.7,535.6 1311.5,535.1 1312.4,535.9 1313.3,536.3 1314.2,536.1 1315.0,536.0 1315.9,535.3 1316.8,535.6 1317.7,535.4 1318.6,535.9 1319.4,535.9 1320.3,536.4 1321.2,535.4 1322.1,536.2 1323.0,533.9 1323.8,536.1 1324.7,536.0 1325.6,535.9 1326.5,536.0 1327.3,536.4 1328.2,535.8 1329.1,535.2 1330.0,535.7 1330.9,535.9 1331.7,536.0 1332.6,536.4 1333.5,535.7 1334.4,535.4 1335.3,535.5 1336.1,536.3 1337.0,535.2 1337.9,536.1 1338.8,535.6 1339.6,535.1 1340.5,536.2 1341.4,535.5 1342.3,535.9 1343.2,535.8 1344.0,535.8 1344.9,535.6 1345.8,536.2 1346.7,535.2 1347.6,535.4 1348.4,536.4 1349.3,535.9 1350.2,536.4 1351.1,535.4 1351.9,536.4 1352.8,535.7 1353.7,535.1 1354.6,535.2 1355.5,535.1 1356.3,536.1 1357.2,535.5 1358.1,535.1 1359.0,535.3 1359.9,535.3 1360.7,535.1 1361.6,536.2 1362.5,535.9 1363.4,536.4 1364.2,535.3 1365.1,535.5" fill="none" stroke="#ff0000"/>
<path d="M101 536.5L1366 536.5" stroke="#ff0000"/>
<path d="M135.5 304V537" stroke="#ff0000"/>
<path d="M136.5 420V537" stroke="#ff0000"/>
<path d="M214.5 304V537" stroke="#ff0000"/>
<path d="M213.5 420V537" stroke="#ff0000"/>
<path d="M288.5 304V537" stroke="#ff0000"/>
<path d="M289.5 420V537" stroke="#ff0000"/>
<path d="M294.5 349V537" stroke="#ff0000"/>
<path d="M414.5 304V537" stroke="#ff0000"/>
<path d="M415.5 428V537" stroke="#ff0000"/>
<path d="M704.5 304V537" stroke="#ff0000"/>
<path d="M705.5 420V537" stroke="#ff0000"/>
<path d="M719.5 304V537" stroke="#ff0000"/>
<path d="M720.5 428V537" stroke="#ff0000"/>
<path d="M1035.5 304V537" stroke="#ff0000"/>
<path d="M1036.5 420V537" stroke="#ff0000"/>
<path d="M1181.5 304V537" stroke="#ff0000"/>
<path d="M1182.5 420V537" stroke="#ff0000"/>
<path d="M577.5 512V537" stroke="#ff0000"/>
<polyline points="101.0,508.4 101.9,534.4 102.8,520.9 103.6,533.6 104.5,533.6 105.4,531.1 106.3,516.3 107.1,533.8 108.0,534.0 108.9,529.2 109.8,534.0 110.7,528.6 111.5,530.3 112.4,533.3 113.3,524.8 114.2,534.7 115.1,534.9 115.9,533.6 116.8,534.7 117.7,529.2 118.6,530.6 119.4,525.4 120.3,528.0 121.2,533.6 122.1,531.5 123.0,533.5 123.8,522.7 124.7,534.7 125.6,533.6 126.5,525.1 127.4,533.4 128.2,531.7 129.1,531.7 130.0,533.8 130.9,533.2 131.7,530.0 132.6,534.7 133.5,535.0 134.4,533.2 135.3,534.1 136.1,531.9 137.0,532.0 137.9,533.1 138.8,529.7 139.7,533.8 140.5,534.7 141.4,527.6 142.3,533.9 143.2,528.1 144.0,531.4 144.9,525.0 145.8,516.7 146.7,528.1 147.6,534.6 148.4,477.9 149.3,524.3 150.2,533.6 151.1,533.3 152.0,534.6 152.8,520.5 212.6,531.2 213.4,534.8 214.3,525.7 215.2,531.4 216.1,514.2 217.0,527.4 217.8,533.7 218.7,513.8 219.6,524.6 220.5,534.4 221.4,533.8 222.2,530.2 223.1,523.6 224.0,527.3 224.9,534.8 225.7,533.2 226.6,534.0 227.5,535.0 228.4,534.3 229.3,522.6 230.1,534.9 231.0,520.8 231.9,533.0 232.8,524.1 233.6,533.6 234.5,477.9 235.4,532.2 236.3,533.5 237.2,531.3 238.0,533.4 238.9,534.7 239.8,533.1 240.7,533.7 241.6,534.6 242.4,533.2 243.3,527.8 244.2,531.2 245.1,533.3 245.9,528.4 246.8,534.7 247.7,529.3 248.6,501.4 249.5,534.3 250.3,533.4 251.2,533.7 252.1,526.4 253.0,523.7 253.9,534.8 254.7,533.6 255.6,534.2 256.5,525.9 257.4,525.7 258.2,530.7 259.1,529.2 260.0,533.7 260.9,533.9 261.8,534.2 262.6,534.8 263.5,526.1 264.4,523.0 265.3,528.6 266.2,531.5 267.0,534.6 267.9,533.9 268.8,530.4 269.7,533.5 270.5,533.2 271.4,534.5 272.3,526.0 273.2,532.4 274.1,530.0 274.9,532.4 275.8,534.8 276.7,532.0 277.6,534.6 278.5,533.5 279.3,532.4 280.2,524.7 281.1,513.8 282.0,529.2 282.8,529.4 283.7,534.3 284.6,530.0 285.5,533.7 286.4,515.2 287.2,495.0 288.1,534.2 289.0,528.6 289.9,529.5 290.8,534.7 291.6,526.0 292.5,533.7 293.4,530.0 294.3,442.5 295.1,527.2 296.0,532.3 296.9,518.8 297.8,534.7 298.7,529.8 299.5,534.7 300.4,526.9 301.3,534.5 302.2,530.0 303.0,532.2 303.9,531.0 304.8,529.1 305.7,529.4 306.6,526.3 307.4,529.5 308.3,534.8 309.2,532.2 310.1,529.7 311.0,534.8 311.8,533.9 312.7,514.4 313.6,533.6 314.5,534.2 315.3,534.1 316.2,534.7 317.1,533.8 318.0,534.8 318.9,531.5 319.7,534.3 320.6,529.7 321.5,523.7 322.4,529.7 323.3,528.5 324.1,533.1 325.0,523.0 325.9,526.6 326.8,530.6 327.6,533.2 328.5,529.1 329.4,529.4 330.3,526.2 331.2,531.5 332.0,530.1 332.9,527.7 333.8,533.9 334.7,534.7 335.6,524.3 336.4,532.4 337.3,476.8 338.2,526.6 339.1,533.6 339.9,524.6 340.8,530.7 341.7,531.3 342.6,533.7 343.5,525.1 344.3,534.8 345.2,524.9 346.1,531.1 347.0,534.7 347.9,529.6 348.7,533.0 349.6,534.1 350.5,534.8 351.4,530.4 352.2,528.8 353.1,534.2 354.0,533.5 354.9,533.2 355.8,533.4 356.6,529.2 357.5,534.6 358.4,533.7 359.3,528.4 360.1,533.9 361.0,531.2 361.9,534.3 362.8,533.2 363.7,533.1 364.5,533.2 365.4,534.4 366.3,533.3 367.2,534.8 368.1,523.2 368.9,533.9 369.8,534.8 370.7,525.0 371.6,534.7 372.4,533.6 373.3,534.4 374.2,533.2 375.1,534.7 376.0,533.2 376.8,498.2 377.7,530.8 378.6,531.4 379.5,533.4 380.4,512.9 381.2,530.6 382.1,528.5 383.0,531.8 383.9,532.4 384.7,528.8 385.6,534.9 386.5,524.7 387.4,532.1 388.3,529.6 389.1,534.6 390.0,530.1 390.9,534.8 391.8,532.3 392.7,533.8 393.5,534.7 394.4,534.2 395.3,534.0 396.2,533.5 397.0,534.2 397.9,533.0 398.8,533.9 399.7,534.3 400.6,533.7 401.4,527.4 402.3,534.2 403.2,534.1 404.1,529.0 405.0,531.0 405.8,534.2 406.7,534.7 407.6,528.9 408.5,533.2 409.3,534.2 410.2,532.4 411.1,533.6 412.0,534.6 412.9,533.3 413.7,524.0 414.6,533.3 415.5,533.4 416.4,528.8 417.2,533.5 418.1,534.7 419.0,532.4 419.9,534.9 420.8,534.5 421.6,531.5 422.5,528.7 423.4,530.0 424.3,533.3 425.2,534.7 426.0,519.7 426.9,522.6 427.8,533.4 428.7,535.0 429.5,534.7 430.4,534.3 431.3,534.0 432.2,533.6 433.1,531.8 433.9,534.0 434.8,533.6 435.7,523.5 436.6,529.2 437.5,531.6 438.3,526.9 439.2,531.9 440.1,533.9 441.0,523.5 441.8,524.6 442.7,533.6 443.6,534.8 444.5,534.4 445.4,531.4 446.2,534.9 447.1,534.6 448.0,525.6 448.9,533.9 449.8,523.3 450.6,531.8 451.5,533.9 452.4,533.5 453.3,523.5 454.1,526.1 455.0,533.8 455.9,529.3 456.8,533.2 457.7,531.7 458.5,534.3 459.4,528.7 460.3,533.0 461.2,531.8 462.1,530.4 462.9,528.2 463.8,530.8 464.7,529.5 465.6,531.0 466.4,492.9 467.3,534.9 468.2,533.8 469.1,533.1 470.0,533.2 470.8,533.3 471.7,529.0 472.6,529.4 473.5,530.3 474.4,533.1 475.2,533.8 476.1,532.1 477.0,512.3 477.9,524.3 478.7,534.6 479.6,534.4 480.5,535.0 481.4,523.9 482.3,533.8 483.1,534.0 484.0,533.2 484.9,530.1 485.8,526.7 486.6,533.2 487.5,532.1 488.4,528.4 489.3,513.7 490.2,534.7 491.0,534.6 491.9,533.9 492.8,529.3 493.7,529.2 494.6,530.0 495.4,532.0 496.3,534.3 497.2,534.0 498.1,531.3 498.9,534.1 499.8,527.6 500.7,522.7 501.6,531.9 502.5,529.1 503.3,530.8 504.2,531.9 505.1,531.4 506.0,526.2 506.9,533.9 507.7,524.4 508.6,525.4 509.5,532.1 510.4,533.8 511.2,532.3 512.1,533.3 513.0,513.5 513.9,532.3 514.8,532.4 515.6,533.6 516.5,533.4 517.4,525.8 518.3,517.8 519.2,533.6 520.0,534.4 520.9,534.2 521.8,530.5 522.7,530.3 523.5,533.4 524.4,530.7 525.3,533.6 526.2,531.1 527.1,527.0 527.9,512.8 528.8,534.4 529.7,534.7 530.6,527.2 531.5,530.2 532.3,531.3 533.2,535.0 534.1,534.7 535.0,534.0 535.8,524.8 536.7,528.8 537.6,530.6 538.5,533.5 539.4,531.3 540.2,534.3 541.1,534.7 542.0,530.8 542.9,533.6 543.8,530.3 544.6,534.3 545.5,522.9 546.4,530.0 547.3,533.3 548.1,507.9 549.0,534.9 549.9,534.3 550.8,531.2 551.7,534.7 552.5,533.7 553.4,534.0 554.3,492.4 555.2,530.7 556.0,532.2 556.9,533.7 557.8,525.1 558.7,528.2 559.6,534.9 560.4,527.6 561.3,529.0 562.2,534.5 563.1,534.6 564.0,526.9 564.8,512.6 565.7,532.1 566.6,533.0 567.5,533.6 568.3,534.9 569.2,534.2 570.1,534.3 571.0,533.8 571.9,533.9 572.7,523.4 573.6,534.7 574.5,533.7 575.4,533.5 576.3,530.9 577.1,534.4 578.0,533.9 578.9,530.9 579.8,528.7 580.6,531.1 581.5,532.0 582.4,533.2 583.3,533.4 584.2,529.8 585.0,519.6 585.9,533.8 586.8,533.3 587.7,524.7 588.6,527.1 589.4,534.5 590.3,533.1 591.2,485.4 592.1,520.4 592.9,530.4 593.8,534.2 594.7,523.4 595.6,523.0 596.5,533.7 597.3,525.0 598.2,533.0 599.1,525.0 600.0,534.9 600.9,534.5 601.7,529.0 602.6,533.3 603.5,534.2 604.4,533.5 605.2,535.0 606.1,527.4 607.0,534.1 607.9,530.0 608.8,522.9 609.6,524.6 610.5,533.5 611.4,532.4 612.3,531.6 613.1,532.3 614.0,531.1 614.9,534.7 615.8,532.4 616.7,523.7 617.5,532.1 618.4,534.4 619.3,534.6 620.2,531.9 621.1,534.6 621.9,531.4 622.8,527.2 623.7,527.2 624.6,525.1 625.4,533.1 626.3,524.4 627.2,523.3 628.1,533.6 629.0,534.9 629.8,534.8 630.7,529.7 631.6,534.3 632.5,531.4 633.4,533.2 634.2,533.4 635.1,528.5 636.0,534.2 636.9,531.0 637.7,533.1 638.6,529.9 639.5,531.2 640.4,534.3 641.3,530.7 642.1,533.6 643.0,524.6 643.9,524.9 644.8,490.3 645.7,534.6 646.5,495.0 647.4,524.7 648.3,513.8 649.2,535.0 650.0,524.6 650.9,534.4 651.8,534.4 652.7,531.0 653.6,533.9 654.4,533.8 655.3,530.2 656.2,528.3 657.1,529.5 658.0,528.9 658.8,531.9 659.7,531.6 660.6,534.0 661.5,530.5 662.3,534.3 663.2,530.9 664.1,531.0 665.0,529.4 665.9,533.3 666.7,529.0 667.6,525.0 668.5,528.7 669.4,533.4 670.2,533.8 671.1,518.6 672.0,527.3 672.9,534.3 673.8,523.7 674.6,533.9 675.5,528.8 676.4,530.8 677.3,533.7 678.2,534.5 679.0,534.5 679.9,532.0 680.8,533.7 681.7,529.0 682.5,530.0 683.4,533.8 684.3,533.8 685.2,534.1 686.1,525.6 686.9,520.6 687.8,534.7 688.7,534.4 689.6,534.7 690.5,534.3 691.3,530.8 692.2,506.0 693.1,527.4 694.0,517.2 694.8,533.1 695.7,523.3 696.6,533.5 697.5,529.6 698.4,533.3 699.2,534.6 700.1,530.1 701.0,522.7 701.9,534.3 702.8,523.7 703.6,531.5 704.5,526.7 705.4,528.9 706.3,533.6 707.1,534.0 708.0,534.2 708.9,531.2 709.8,517.8 710.7,533.4 711.5,534.2 712.4,522.8 713.3,529.8 714.2,529.6 715.1,527.9 715.9,518.2 716.8,533.4 717.7,533.2 718.6,531.8 719.4,534.1 720.3,528.7 721.2,530.7 722.1,531.0 723.0,528.0 723.8,534.1 724.7,531.2 725.6,534.3 726.5,523.5 727.4,534.7 728.2,534.8 729.1,529.3 730.0,533.5 730.9,534.1 731.7,524.9 732.6,519.2 733.5,533.3 734.4,525.4 735.3,486.8 736.1,533.8 737.0,530.9 737.9,534.0 738.8,534.4 739.6,533.2 740.5,534.8 741.4,533.5 742.3,524.1 743.2,530.4 744.0,524.9 744.9,523.9 745.8,529.0 746.7,480.4 747.6,525.3 748.4,533.2 749.3,533.7 750.2,534.1 751.1,523.5 751.9,530.1 752.8,534.8 753.7,534.5 754.6,533.2 755.5,528.7 756.3,533.1 757.2,530.9 758.1,524.0 759.0,522.6 759.9,506.0 760.7,533.2 761.6,534.1 762.5,534.2 763.4,533.6 764.2,529.6 765.1,533.7 766.0,532.2 766.9,530.1 767.8,528.6 768.6,516.8 769.5,533.0 770.4,534.4 771.3,533.4 772.2,531.6 773.0,534.0 773.9,534.3 774.8,530.1 775.7,533.5 776.5,533.9 777.4,516.4 778.3,534.8 779.2,515.9 780.1,533.8 780.9,533.6 781.8,529.6 782.7,532.5 783.6,529.1 784.5,524.4 785.3,533.2 786.2,530.5 787.1,534.5 788.0,534.3 788.8,478.2 789.7,531.6 790.6,533.1 791.5,533.2 792.4,534.8 793.2,532.1 794.1,527.0 795.0,534.1 795.9,533.3 796.8,533.3 797.6,533.6 798.5,533.9 799.4,533.3 800.3,534.4 801.1,515.6 802.0,530.0 802.9,527.4 803.8,534.6 804.7,534.5 805.5,532.2 806.4,532.2 807.3,525.8 808.2,534.1 809.0,524.8 809.9,525.0 810.8,533.5 811.7,534.3 812.6,534.2 813.4,531.1 814.3,516.2 815.2,533.5 816.1,533.9 817.0,529.4 817.8,533.7 818.7,528.5 819.6,534.2 820.5,531.6 821.3,530.4 822.2,531.6 823.1,534.2 824.0,529.7 824.9,533.6 825.7,525.7 826.6,531.4 827.5,490.0 828.4,533.5 829.3,534.7 830.1,535.0 831.0,533.5 831.9,532.1 832.8,531.8 833.6,533.6 834.5,528.5 835.4,534.7 836.3,530.6 837.2,524.9 838.0,530.5 838.9,533.2 839.8,527.4 840.7,534.1 841.6,530.0 842.4,534.7 843.3,534.6 844.2,534.6 845.1,534.9 845.9,525.0 846.8,534.8 847.7,485.3 848.6,534.6 849.5,529.5 850.3,531.5 851.2,534.9 852.1,531.2 853.0,533.6 853.9,532.4 854.7,533.8 855.6,525.8 856.5,528.8 857.4,533.5 858.2,531.5 859.1,530.8 860.0,534.4 860.9,526.1 861.8,531.3 862.6,533.9 863.5,525.7 864.4,534.0 865.3,525.5 866.1,534.1 867.0,533.3 867.9,532.2 868.8,534.5 869.7,534.1 870.5,524.1 871.4,533.3 872.3,534.4 873.2,513.9 874.1,533.7 874.9,523.1 875.8,529.8 876.7,515.6 877.6,525.4 878.4,504.0 879.3,532.0 880.2,533.9 881.1,530.7 882.0,533.6 882.8,534.2 883.7,534.5 884.6,530.8 885.5,523.0 886.4,534.3 887.2,534.2 888.1,533.7 889.0,517.0 889.9,534.5 890.7,534.3 891.6,532.1 892.5,534.4 893.4,528.8 894.3,534.0 895.1,534.6 896.0,533.1 896.9,530.1 897.8,533.6 898.7,530.6 899.5,534.2 900.4,513.1 901.3,532.1 902.2,531.1 903.0,533.9 903.9,534.0 904.8,533.5 905.7,529.1 906.6,524.8 907.4,533.4 908.3,533.1 909.2,534.6 910.1,526.0 911.0,531.3 911.8,532.0 912.7,530.0 913.6,534.9 914.5,529.0 915.3,494.3 916.2,531.0 917.1,534.5 918.0,529.1 918.9,533.0 919.7,529.0 920.6,528.7 921.5,534.5 922.4,534.9 923.2,528.1 924.1,533.4 925.0,534.9 925.9,533.9 926.8,534.0 927.6,533.8 928.5,533.7 929.4,534.3 930.3,523.9 931.2,518.8 932.0,533.9 932.9,534.4 933.8,530.6 934.7,534.4 935.5,533.3 936.4,493.2 937.3,534.8 938.2,533.8 939.1,533.8 939.9,531.7 940.8,530.3 941.7,533.3 942.6,533.2 943.5,530.6 944.3,532.5 945.2,534.4 946.1,530.3 947.0,534.0 947.8,531.9 948.7,530.8 949.6,525.6 950.5,525.5 951.4,533.5 952.2,480.4 953.1,534.0 954.0,534.0 954.9,534.3 955.8,531.6 956.6,533.4 957.5,520.2 958.4,528.5 959.3,522.5 960.1,527.1 961.0,523.0 961.9,531.3 962.8,533.7 963.7,534.7 964.5,533.6 965.4,533.7 966.3,529.0 967.2,529.3 968.1,520.7 968.9,529.6 969.8,534.9 970.7,533.8 971.6,522.8 972.4,533.6 973.3,534.1 974.2,517.4 975.1,525.3 976.0,530.5 976.8,533.3 977.7,534.2 978.6,534.6 979.5,524.4 980.4,529.2 981.2,534.3 982.1,534.9 983.0,533.5 983.9,532.2 984.7,530.9 985.6,530.4 986.5,524.6 987.4,528.5 988.3,532.1 989.1,533.2 990.0,529.6 990.9,514.1 991.8,529.2 992.6,530.4 993.5,531.7 994.4,533.1 995.3,533.3 996.2,534.4 997.0,533.6 997.9,529.0 998.8,529.5 999.7,514.4 1000.6,532.1 1001.4,533.9 1002.3,534.7 1003.2,530.5 1004.1,533.4 1004.9,533.5 1005.8,490.0 1006.7,532.1 1007.6,533.0 1008.5,520.1 1009.3,529.6 1010.2,534.2 1011.1,520.4 1012.0,532.2 1012.9,529.8 1013.7,533.1 1014.6,533.0 1015.5,530.9 1016.4,532.1 1017.2,524.5 1018.1,534.0 1019.0,534.0 1019.9,522.6 1020.8,528.4 1021.6,523.4 1022.5,522.7 1023.4,534.1 1024.3,531.6 1025.2,534.8 1026.0,532.0 1026.9,523.3 1027.8,533.9 1028.7,532.2 1029.5,524.0 1030.4,533.6 1031.3,533.1 1032.2,530.8 1033.1,527.9 1033.9,534.4 1034.8,528.9 1035.7,534.5 1036.6,523.3 1037.5,532.2 1038.3,530.9 1039.2,534.5 1040.1,499.0 1041.0,525.5 1041.8,530.8 1042.7,533.1 1043.6,525.5 1044.5,534.3 1045.4,528.9 1046.2,535.0 1047.1,533.5 1048.0,534.7 1048.9,535.0 1049.8,533.9 1050.6,533.5 1051.5,533.6 1052.4,524.5 1053.3,534.6 1054.1,531.1 1055.0,525.5 1055.9,516.2 1056.8,529.8 1057.7,534.4 1058.5,529.9 1059.4,533.5 1060.3,534.7 1061.2,530.4 1062.0,529.2 1062.9,533.6 1063.8,519.6 1064.7,534.7 1065.6,533.1 1066.4,531.2 1067.3,534.5 1068.2,534.3 1069.1,534.1 1070.0,529.5 1070.8,523.0 1071.7,533.0 1072.6,528.8 1073.5,530.7 1074.3,534.9 1075.2,529.6 1076.1,533.9 1077.0,534.8 1077.9,533.6 1078.7,534.4 1079.6,533.8 1080.5,535.0 1081.4,531.1 1082.3,530.4 1083.1,529.7 1084.0,533.5 1084.9,533.3 1085.8,533.6 1086.6,529.1 1087.5,529.9 1088.4,533.2 1089.3,525.2 1090.2,530.4 1091.0,534.5 1091.9,533.2 1092.8,533.6 1093.7,534.5 1094.6,531.2 1095.4,494.3 1096.3,533.7 1097.2,533.5 1098.1,524.6 1098.9,533.2 1099.8,529.9 1100.7,525.3 1101.6,524.2 1102.5,529.4 1103.3,532.0 1104.2,533.7 1105.1,523.5 1106.0,533.2 1106.9,522.6 1107.7,534.7 1108.6,529.5 1109.5,534.5 1110.4,520.5 1111.2,534.5 1112.1,529.6 1113.0,534.0 1113.9,534.2 1114.8,531.1 1115.6,520.2 1116.5,533.5 1117.4,533.5 1118.3,532.0 1119.1,533.3 1120.0,533.6 1120.9,533.2 1121.8,534.7 1122.7,531.6 1123.5,535.0 1124.4,534.3 1125.3,528.4 1126.2,531.6 1127.1,530.0 1127.9,534.0 1128.8,532.4 1129.7,533.0 1130.6,529.1 1131.4,533.8 1132.3,534.0 1133.2,529.3 1134.1,529.3 1135.0,524.0 1135.8,529.2 1136.7,534.2 1137.6,533.1 1138.5,534.0 1139.4,528.7 1140.2,534.1 1141.1,534.0 1142.0,529.0 1142.9,534.4 1143.7,533.8 1144.6,526.2 1145.5,527.3 1146.4,504.0 1147.3,534.7 1148.1,526.6 1149.0,533.4 1149.9,534.0 1150.8,533.6 1151.7,533.4 1152.5,530.1 1153.4,532.4 1154.3,534.4 1155.2,531.4 1156.0,534.6 1156.9,534.6 1157.8,528.5 1158.7,522.9 1159.6,533.9 1160.4,534.8 1161.3,534.2 1162.2,534.8 1163.1,524.7 1164.0,531.8 1164.8,512.1 1165.7,529.1 1166.6,528.5 1167.5,533.0 1168.3,534.6 1169.2,523.4 1170.1,519.2 1171.0,528.6 1171.9,534.1 1172.7,533.1 1173.6,528.8 1174.5,534.3 1175.4,531.1 1176.2,534.5 1177.1,533.3 1178.0,525.6 1178.9,533.6 1179.8,520.0 1180.6,534.3 1181.5,531.9 1182.4,494.3 1183.3,533.0 1184.2,535.0 1185.0,522.5 1185.9,534.0 1186.8,530.0 1187.7,534.7 1188.5,533.2 1189.4,530.8 1190.3,534.1 1191.2,534.5 1192.1,527.1 1192.9,524.0 1193.8,533.9 1194.7,534.6 1195.6,533.5 1196.5,533.2 1197.3,530.5 1198.2,533.4 1199.1,533.5 1200.0,534.1 1200.8,534.4 1201.7,529.7 1202.6,530.8 1203.5,533.7 1204.4,530.5 1205.2,534.9 1206.1,530.5 1207.0,532.2 1207.9,523.6 1208.8,533.4 1209.6,532.2 1210.5,531.9 1211.4,534.1 1212.3,532.5 1213.1,527.1 1214.0,527.3 1214.9,526.4 1215.8,529.1 1216.7,532.5 1217.5,534.6 1218.4,534.7 1219.3,534.5 1220.2,534.9 1221.1,534.9 1221.9,533.6 1222.8,530.3 1223.7,534.8 1224.6,529.1 1225.4,531.4 1226.3,533.5 1227.2,531.8 1228.1,534.2 1229.0,534.2 1229.8,534.8 1230.7,525.9 1231.6,529.5 1232.5,533.7 1233.4,526.1 1234.2,533.6 1235.1,523.7 1236.0,534.1 1236.9,530.8 1237.7,524.2 1238.6,534.0 1239.5,533.3 1240.4,533.8 1241.3,528.6 1242.1,529.3 1243.0,513.0 1243.9,534.1 1244.8,530.6 1245.6,534.0 1246.5,531.7 1247.4,526.1 1248.3,534.0 1249.2,533.7 1250.0,534.6 1250.9,518.7 1251.8,532.2 1252.7,531.9 1253.6,533.8 1254.4,529.6 1255.3,534.6 1256.2,528.2 1257.1,522.9 1257.9,525.8 1258.8,535.0 1259.7,533.7 1260.6,529.8 1261.5,533.8 1262.3,531.1 1263.2,534.9 1264.1,533.1 1265.0,530.6 1265.9,515.3 1266.7,531.6 1267.6,535.0 1268.5,531.4 1269.4,532.2 1270.2,523.8 1271.1,515.9 1272.0,534.1 1272.9,534.7 1273.8,490.0 1274.6,534.6 1275.5,524.0 1276.4,524.3 1277.3,534.0 1278.2,533.3 1279.0,533.7 1279.9,516.3 1280.8,534.0 1281.7,531.1 1282.5,533.1 1283.4,524.0 1284.3,533.2 1285.2,533.2 1286.1,529.3 1286.9,534.3 1287.8,533.0 1288.7,531.7 1289.6,534.2 1290.5,533.4 1291.3,533.8 1292.2,527.5 1293.1,531.5 1294.0,531.5 1294.8,533.8 1295.7,529.7 1296.6,526.6 1297.5,528.3 1298.4,529.8 1299.2,531.4 1300.1,533.5 1301.0,531.3 1301.9,523.3 1302.8,533.8 1303.6,527.9 1304.5,531.8 1305.4,527.2 1306.3,532.3 1307.1,526.9 1308.0,533.1 1308.9,533.6 1309.8,533.6 1310.7,534.6 1311.5,533.7 1312.4,517.5 1313.3,533.3 1314.2,533.1 1315.0,533.5 1315.9,523.8 1316.8,530.2 1317.7,533.7 1318.6,534.8 1319.4,525.4 1320.3,526.6 1321.2,533.5 1322.1,533.9 1323.0,530.4 1323.8,530.3 1324.7,490.0 1325.6,531.0 1326.5,534.7 1327.3,530.4 1328.2,533.8 1329.1,534.8 1330.0,533.4 1330.9,523.4 1331.7,533.5 1332.6,534.0 1333.5,531.2 1334.4,532.0 1335.3,525.9 1336.1,531.2 1337.0,533.5 1337.9,533.4 1338.8,533.9 1339.6,534.7 1340.5,519.4 1341.4,526.5 1342.3,527.3 1343.2,529.7 1344.0,534.7 1344.9,534.3 1345.8,531.5 1346.7,534.2 1347.6,513.5 1348.4,533.7 1349.3,533.5 1350.2,527.3 1351.1,519.3 1351.9,533.1 1352.8,534.6 1353.7,533.9 1354.6,533.8 1355.5,532.1 1356.3,533.9 1357.2,531.2 1358.1,534.3 1359.0,534.5 1359.9,530.2 1360.7,533.5 1361.6,534.7 1362.5,492.0 1363.4,515.9 1364.2,531.1 1365.1,529.0" fill="none" stroke="#00c000"/>
<path d="M101 508.5L1366 531" stroke="#00c000"/>
<polyline points="101.0,534.0 101.9,527.0 102.8,521.0 103.6,514.9 104.5,520.1 105.4,526.1 106.3,532.3 107.1,532.2 108.0,533.5 108.9,532.6 109.8,532.9 110.7,532.7 111.5,533.7 112.4,532.1 113.3,533.2 114.2,525.7 115.1,517.3 115.9,509.3 116.8,517.0 117.7,525.3 118.6,531.7 119.4,532.8 120.3,532.0 121.2,531.7 122.1,532.9 123.0,533.7 123.8,532.6 124.7,533.7 125.6,533.2 126.5,532.3 127.4,527.5 128.2,522.5 129.1,518.7 130.0,513.4 130.9,508.3 131.7,513.6 132.6,518.3 133.5,522.9 134.4,527.7 135.3,528.1 136.1,532.0 137.0,533.7 137.9,533.1 138.8,531.6 139.7,533.3 140.5,529.0 141.4,524.6 142.3,519.6 143.2,515.0 144.0,511.1 144.9,514.7 145.8,519.1 146.7,523.9 147.6,528.5 148.4,531.7 149.3,531.9 150.2,532.1 151.1,532.2 152.0,531.7 152.8,532.4 206.4,532.4 207.3,528.5 208.2,523.9 209.1,519.5 209.9,515.2 210.8,520.1 211.7,524.0 212.6,528.4 213.4,532.9 214.3,531.6 215.2,388.0 216.1,533.5 217.0,532.6 217.8,533.5 218.7,533.1 219.6,533.2 220.5,525.4 221.4,517.0 222.2,508.3 223.1,517.2 224.0,524.1 224.9,532.7 225.7,532.7 226.6,532.6 227.5,529.3 228.4,525.1 229.3,521.2 230.1,518.4 231.0,521.3 231.9,525.9 232.8,528.7 233.6,531.9 234.5,532.5 235.4,532.4 236.3,532.8 237.2,529.3 238.0,524.4 238.9,520.4 239.8,516.5 240.7,520.1 241.6,524.0 242.4,529.4 243.3,533.2 244.2,532.0 245.1,533.7 245.9,533.5 246.8,533.7 247.7,531.7 248.6,528.2 249.5,532.3 250.3,525.4 251.2,532.7 252.1,530.3 253.0,526.6 253.9,524.8 254.7,522.5 255.6,524.9 256.5,528.0 257.4,529.3 258.2,532.5 259.1,532.6 260.0,531.7 260.9,533.2 261.8,525.5 262.6,533.4 263.5,533.3 264.4,528.5 265.3,533.7 266.2,532.4 267.0,528.3 267.9,524.5 268.8,519.1 269.7,514.8 270.5,520.0 271.4,523.7 272.3,527.9 273.2,532.5 274.1,533.0 274.9,532.1 275.8,533.4 276.7,530.4 277.6,532.4 278.5,529.0 279.3,524.3 280.2,521.2 281.1,517.5 282.0,513.4 282.8,516.7 283.7,521.1 284.6,525.3 285.5,528.7 286.4,532.1 287.2,532.2 288.1,533.6 289.0,532.5 289.9,525.2 290.8,516.3 291.6,524.5 292.5,531.8 293.4,532.9 294.3,532.9 295.1,488.6 296.0,533.6 296.9,528.5 297.8,533.0 298.7,533.0 299.5,532.7 300.4,532.5 301.3,531.7 302.2,532.9 303.0,524.9 303.9,515.9 304.8,508.0 305.7,516.3 306.6,524.1 307.4,532.9 308.3,532.6 309.2,533.3 310.1,533.2 311.0,532.6 311.8,528.5 312.7,525.6 313.6,522.0 314.5,519.1 315.3,521.6 316.2,526.0 317.1,529.5 318.0,533.6 318.9,533.3 319.7,531.7 320.6,531.8 321.5,532.0 322.4,532.0 323.3,533.0 324.1,532.4 325.0,524.2 325.9,516.8 326.8,508.2 327.6,515.7 328.5,524.6 329.4,532.7 330.3,532.6 331.2,533.8 332.0,532.3 332.9,524.7 333.8,517.9 334.7,510.0 335.6,518.1 336.4,525.6 337.3,533.3 338.2,529.2 339.1,533.6 339.9,533.8 340.8,533.8 341.7,533.0 342.6,533.2 343.5,532.2 344.3,532.3 345.2,533.5 346.1,524.2 347.0,516.4 347.9,508.5 348.7,516.7 349.6,524.6 350.5,533.2 351.4,532.5 352.2,527.0 353.1,525.8 354.0,532.7 354.9,526.6 355.8,522.2 356.6,517.0 357.5,510.3 358.4,516.1 359.3,522.4 360.1,527.8 361.0,532.2 361.9,531.8 362.8,532.5 363.7,530.0 364.5,527.0 365.4,523.3 366.3,521.1 367.2,517.1 368.1,513.9 368.9,517.6 369.8,521.3 370.7,523.8 371.6,526.8 372.4,530.1 373.3,531.7 374.2,531.8 375.1,531.9 376.0,526.6 376.8,532.2 377.7,530.9 378.6,527.8 379.5,525.8 380.4,524.0 381.2,521.8 382.1,523.4 383.0,525.1 383.9,527.7 384.7,530.3 385.6,533.1 386.5,531.6 387.4,532.8 388.3,533.2 389.1,528.3 390.0,532.0 390.9,533.4 391.8,533.0 392.7,529.6 393.5,525.0 394.4,521.7 395.3,517.4 396.2,514.7 397.0,518.1 397.9,521.1 398.8,525.7 399.7,528.3 400.6,532.2 401.4,531.9 402.3,532.7 403.2,529.4 404.1,526.0 405.0,522.3 405.8,517.7 406.7,514.1 407.6,511.9 408.5,515.0 409.3,518.8 410.2,522.3 411.1,525.9 412.0,529.5 412.9,533.6 413.7,526.4 414.6,532.6 415.5,533.2 416.4,533.2 417.2,533.1 418.1,528.6 419.0,525.0 419.9,520.8 420.8,517.6 421.6,512.6 422.5,517.0 423.4,520.6 424.3,524.2 425.2,528.8 426.0,533.2 426.9,533.8 427.8,531.9 428.7,532.0 429.5,533.1 430.4,533.1 431.3,529.6 432.2,525.9 433.1,521.1 433.9,517.5 434.8,521.9 435.7,525.2 436.6,528.6 437.5,531.7 438.3,533.2 439.2,533.5 440.1,500.4 441.0,531.9 441.8,532.6 442.7,528.3 443.6,523.3 444.5,520.3 445.4,515.6 446.2,511.5 447.1,515.2 448.0,519.7 448.9,523.7 449.8,527.6 450.6,531.7 451.5,533.7 452.4,532.3 453.3,525.3 454.1,518.3 455.0,511.9 455.9,518.8 456.8,525.9 457.7,532.6 458.5,528.0 459.4,533.3 460.3,532.9 461.2,532.9 462.1,529.3 462.9,524.1 463.8,519.4 464.7,515.9 465.6,511.6 466.4,515.8 467.3,520.3 468.2,524.8 469.1,528.1 470.0,532.0 470.8,532.2 471.7,533.4 472.6,532.7 473.5,532.1 474.4,530.2 475.2,529.8 476.1,527.0 477.0,525.3 477.9,523.1 478.7,521.3 479.6,523.9 480.5,526.1 481.4,527.7 482.3,529.4 483.1,531.0 484.0,532.3 484.9,528.5 485.8,532.3 486.6,533.1 487.5,527.1 488.4,522.7 489.3,516.1 490.2,511.3 491.0,517.4 491.9,522.6 492.8,526.7 493.7,532.9 494.6,532.2 495.4,525.8 496.3,532.6 497.2,533.5 498.1,532.1 498.9,532.6 499.8,531.7 500.7,530.1 501.6,530.3 502.5,533.1 503.3,526.0 504.2,519.6 505.1,514.0 506.0,507.8 506.9,514.7 507.7,520.0 508.6,526.5 509.5,531.7 510.4,532.5 511.2,533.6 512.1,532.9 513.0,533.1 513.9,527.3 514.8,531.7 515.6,503.6 516.5,533.3 517.4,529.1 518.3,526.1 519.2,523.3 520.0,521.0 520.9,516.8 521.8,514.4 522.7,516.8 523.5,520.2 524.4,523.4 525.3,526.8 526.2,529.8 527.1,532.2 527.9,532.8 528.8,526.8 529.7,531.7 530.6,533.4 531.5,532.5 532.3,528.5 533.2,525.3 534.1,521.7 535.0,524.8 535.8,529.0 536.7,533.1 537.6,532.3 538.5,527.7 539.4,533.8 540.2,533.5 541.1,531.8 542.0,532.7 542.9,525.6 543.8,517.4 544.6,525.1 545.5,528.1 546.4,527.9 547.3,530.8 548.1,532.7 549.0,532.1 549.9,533.8 550.8,532.3 551.7,533.2 552.5,532.6 553.4,527.1 554.3,522.5 555.2,517.4 556.0,512.1 556.9,517.1 557.8,521.4 558.7,528.1 559.6,531.9 560.4,532.2 561.3,532.2 562.2,529.9 563.1,532.7 564.0,527.5 564.8,520.7 565.7,515.1 566.6,509.2 567.5,515.2 568.3,521.1 569.2,526.2 570.1,529.4 571.0,533.1 571.9,532.8 572.7,531.9 573.6,532.7 574.5,527.9 575.4,523.0 576.3,518.8 577.1,523.3 578.0,528.8 578.9,533.2 579.8,532.7 580.6,532.5 581.5,525.7 582.4,518.4 583.3,509.7 584.2,518.0 585.0,525.7 585.9,531.6 586.8,532.1 587.7,532.7 588.6,532.4 589.4,533.4 590.3,531.8 591.2,533.4 592.1,531.7 592.9,529.7 593.8,527.9 594.7,526.0 595.6,525.0 596.5,522.2 597.3,524.5 598.2,525.8 599.1,527.0 600.0,530.0 600.9,530.5 601.7,532.7 602.6,527.6 603.5,532.2 604.4,531.6 605.2,532.0 606.1,529.4 607.0,525.8 607.9,532.6 608.8,532.4 609.6,526.8 610.5,521.4 611.4,527.2 612.3,533.1 613.1,533.3 614.0,533.0 614.9,533.7 615.8,532.1 616.7,532.7 617.5,533.7 618.4,530.9 619.3,533.0 620.2,528.3 621.1,523.8 621.9,518.6 622.8,523.0 623.7,528.1 624.6,531.6 625.4,533.0 626.3,533.4 627.2,533.3 628.1,533.7 629.0,533.0 629.8,533.8 630.7,533.1 631.6,533.3 632.5,533.6 633.4,532.3 634.2,529.6 635.1,525.6 636.0,522.5 636.9,518.7 637.7,523.3 638.6,525.5 639.5,529.5 640.4,525.8 641.3,531.6 642.1,533.6 643.0,532.1 643.9,530.0 644.8,525.9 645.7,522.9 646.5,520.5 647.4,523.0 648.3,525.9 649.2,529.3 650.0,532.2 650.9,531.8 651.8,531.9 652.7,532.2 653.6,525.1 654.4,531.8 655.3,533.3 656.2,533.4 657.1,533.0 658.0,526.2 658.8,519.0 659.7,526.3 660.6,533.4 661.5,532.9 662.3,507.4 663.2,532.6 664.1,533.4 665.0,529.6 665.9,526.7 666.7,524.4 667.6,520.8 668.5,519.1 669.4,522.1 670.2,524.7 671.1,527.3 672.0,529.8 672.9,532.8 673.8,533.4 674.6,533.3 675.5,532.4 676.4,531.9 677.3,533.0 678.2,532.9 679.0,530.4 679.9,526.5 680.8,523.3 681.7,520.3 682.5,517.6 683.4,514.5 684.3,517.3 685.2,520.6 686.1,523.8 686.9,526.8 687.8,529.8 688.7,533.0 689.6,533.6 690.5,533.4 691.3,533.6 692.2,532.9 693.1,532.7 694.0,533.5 694.8,532.7 695.7,531.5 696.6,529.1 697.5,527.8 698.4,526.1 699.2,523.8 700.1,522.7 701.0,524.6 701.9,525.9 702.8,527.5 703.6,529.7 704.5,531.3 705.4,532.6 706.3,531.7 707.1,533.3 708.0,532.6 708.9,528.6 709.8,522.4 710.7,518.9 711.5,513.9 712.4,508.2 713.3,513.9 714.2,518.0 715.1,523.6 715.9,528.0 716.8,533.6 717.7,533.3 718.6,533.1 719.4,532.6 720.3,533.3 721.2,532.3 722.1,532.9 723.0,532.4 723.8,529.5 724.7,525.7 725.6,523.0 726.5,519.5 727.4,515.2 728.2,512.5 729.1,496.4 730.0,514.9 730.9,518.3 731.7,521.6 732.6,525.3 733.5,529.0 734.4,533.1 735.3,533.6 736.1,533.4 737.0,528.0 737.9,523.7 738.8,519.5 739.6,514.5 740.5,518.4 741.4,523.5 742.3,527.9 743.2,532.0 744.0,527.5 744.9,533.0 745.8,527.6 746.7,523.0 747.6,519.2 748.4,513.1 749.3,509.6 750.2,513.6 751.1,518.9 751.9,523.5 752.8,528.4 753.7,525.8 754.6,532.5 755.5,532.5 756.3,533.4 757.2,532.4 758.1,533.4 759.0,526.7 759.9,520.2 760.7,514.0 761.6,507.9 762.5,514.7 763.4,519.9 764.2,526.4 765.1,531.9 766.0,531.8 766.9,532.6 767.8,528.8 768.6,524.6 769.5,521.5 770.4,517.7 771.3,514.0 772.2,510.7 773.0,513.7 773.9,517.9 774.8,520.8 775.7,524.6 776.5,528.8 777.4,533.7 778.3,533.4 779.2,533.3 780.1,532.0 780.9,532.5 781.8,531.9 782.7,533.0 783.6,524.3 784.5,515.0 785.3,524.3 786.2,527.3 787.1,533.3 788.0,531.7 788.8,527.3 789.7,532.3 790.6,531.8 791.5,533.7 792.4,533.0 793.2,528.4 794.1,533.1 795.0,530.1 795.9,526.8 796.8,523.1 797.6,519.2 798.5,516.0 799.4,513.0 800.3,517.5 801.1,519.8 802.0,523.7 802.9,526.4 803.8,529.6 804.7,532.1 805.5,532.3 806.4,528.5 807.3,526.3 808.2,530.5 809.0,531.9 809.9,532.7 810.8,530.3 811.7,526.2 812.6,524.3 813.4,520.9 814.3,517.2 815.2,520.2 816.1,524.4 817.0,526.6 817.8,529.1 818.7,532.5 819.6,532.5 820.5,533.7 821.3,532.5 822.2,533.0 823.1,526.2 824.0,520.7 824.9,515.0 825.7,509.8 826.6,515.7 827.5,521.3 828.4,526.9 829.3,532.7 830.1,532.5 831.0,532.5 831.9,532.3 832.8,532.7 833.6,533.4 834.5,531.6 835.4,533.0 836.3,532.6 837.2,533.2 838.0,532.8 838.9,525.8 839.8,518.6 840.7,511.1 841.6,519.0 842.4,525.2 843.3,530.7 844.2,532.7 845.1,533.1 845.9,531.8 846.8,531.8 847.7,532.0 848.6,532.7 849.5,533.1 850.3,529.2 851.2,527.1 852.1,523.2 853.0,526.8 853.9,529.1 854.7,533.2 855.6,532.1 856.5,532.3 857.4,533.8 858.2,532.9 859.1,532.1 860.0,533.4 860.9,529.6 861.8,527.2 862.6,525.0 863.5,494.3 864.4,522.8 865.3,525.1 866.1,527.1 867.0,529.6 867.9,533.3 868.8,533.1 869.7,532.9 870.5,531.7 871.4,532.9 872.3,532.8 873.2,532.5 874.1,522.2 874.9,511.3 875.8,521.6 876.7,532.7 877.6,525.8 878.4,531.6 879.3,532.5 880.2,532.9 881.1,532.3 882.0,531.6 882.8,529.2 883.7,533.4 884.6,527.4 885.5,522.9 886.4,519.2 887.2,514.4 888.1,510.2 889.0,514.7 889.9,518.9 890.7,523.2 891.6,528.8 892.5,533.0 893.4,532.7 894.3,532.3 895.1,532.9 896.0,530.1 896.9,528.7 897.8,527.4 898.7,525.0 899.5,523.4 900.4,524.6 901.3,526.8 902.2,528.5 903.0,531.4 903.9,532.2 904.8,533.7 905.7,532.7 906.6,532.7 907.4,527.3 908.3,533.4 909.2,527.1 910.1,532.5 911.0,524.3 911.8,514.2 912.7,524.3 913.6,533.5 914.5,533.0 915.3,532.0 916.2,533.3 917.1,533.5 918.0,532.8 918.9,533.1 919.7,532.1 920.6,533.2 921.5,527.3 922.4,520.9 923.2,409.0 924.1,470.0 925.0,515.5 925.9,521.3 926.8,527.3 927.6,533.0 928.5,532.5 929.4,533.5 930.3,532.6 931.2,533.0 932.0,533.3 932.9,533.4 933.8,529.8 934.7,526.5 935.5,522.3 936.4,526.0 937.3,530.0 938.2,532.9 939.1,528.5 939.9,527.9 940.8,533.3 941.7,532.8 942.6,532.1 943.5,526.6 944.3,522.2 945.2,516.0 946.1,510.8 947.0,516.6 947.8,522.1 948.7,527.4 949.6,532.8 950.5,532.0 951.4,532.3 952.2,526.8 953.1,520.1 954.0,512.3 954.9,519.5 955.8,526.3 956.6,532.3 957.5,532.4 958.4,531.9 959.3,533.6 960.1,532.7 961.0,533.6 961.9,533.1 962.8,532.2 963.7,533.2 964.5,532.2 965.4,527.1 966.3,520.8 967.2,525.9 968.1,532.6 968.9,529.1 969.8,532.4 970.7,533.0 971.6,533.5 972.4,532.9 973.3,523.4 974.2,513.6 975.1,522.9 976.0,532.2 976.8,532.8 977.7,528.3 978.6,529.6 979.5,531.8 980.4,533.4 981.2,531.0 982.1,528.5 983.0,527.3 983.9,524.0 984.7,523.2 985.6,521.3 986.5,521.9 987.4,524.4 988.3,526.1 989.1,528.4 990.0,530.8 990.9,531.8 991.8,533.1 992.6,532.0 993.5,532.7 994.4,532.5 995.3,531.6 996.2,533.0 997.0,528.9 997.9,526.1 998.8,521.4 999.7,518.2 1000.6,514.4 1001.4,511.7 1002.3,515.7 1003.2,518.7 1004.1,522.4 1004.9,526.3 1005.8,529.4 1006.7,533.4 1007.6,531.8 1008.5,531.8 1009.3,508.2 1010.2,532.5 1011.1,532.5 1012.0,532.6 1012.9,531.8 1013.7,533.0 1014.6,527.6 1015.5,523.0 1016.4,518.2 1017.2,512.2 1018.1,508.2 1019.0,513.0 1019.9,517.0 1020.8,523.2 1021.6,528.0 1022.5,532.9 1023.4,531.9 1024.3,532.2 1025.2,531.0 1026.0,527.5 1026.9,525.5 1027.8,523.3 1028.7,520.2 1029.5,518.9 1030.4,520.1 1031.3,523.2 1032.2,526.2 1033.1,527.8 1033.9,530.1 1034.8,532.0 1035.7,530.9 1036.6,533.3 1037.5,532.8 1038.3,532.7 1039.2,531.7 1040.1,532.3 1041.0,532.4 1041.8,532.3 1042.7,532.7 1043.6,532.8 1044.5,525.5 1045.4,516.6 1046.2,509.7 1047.1,517.0 1048.0,524.8 1048.9,531.9 1049.8,532.4 1050.6,532.5 1051.5,527.9 1052.4,521.0 1053.3,515.4 1054.1,521.3 1055.0,527.1 1055.9,531.8 1056.8,533.6 1057.7,533.2 1058.5,532.1 1059.4,531.8 1060.3,532.4 1061.2,532.7 1062.0,532.8 1062.9,533.1 1063.8,527.7 1064.7,521.3 1065.6,517.0 1066.4,510.3 1067.3,515.7 1068.2,521.8 1069.1,527.8 1070.0,533.6 1070.8,533.4 1071.7,533.7 1072.6,532.0 1073.5,533.1 1074.3,532.1 1075.2,533.0 1076.1,533.2 1077.0,532.2 1077.9,532.7 1078.7,529.1 1079.6,525.3 1080.5,522.3 1081.4,524.8 1082.3,528.6 1083.1,532.8 1084.0,531.6 1084.9,533.5 1085.8,533.2 1086.6,533.1 1087.5,532.7 1088.4,527.9 1089.3,522.9 1090.2,518.2 1091.0,523.6 1091.9,528.1 1092.8,532.7 1093.7,532.1 1094.6,527.7 1095.4,533.6 1096.3,532.6 1097.2,526.6 1098.1,533.3 1098.9,529.7 1099.8,528.2 1100.7,525.6 1101.6,523.0 1102.5,519.5 1103.3,522.4 1104.2,525.1 1105.1,528.0 1106.0,530.4 1106.9,533.1 1107.7,531.9 1108.6,532.0 1109.5,531.9 1110.4,532.0 1111.2,530.0 1112.1,526.9 1113.0,525.5 1113.9,522.0 1114.8,519.7 1115.6,517.0 1116.5,520.7 1117.4,522.3 1118.3,525.1 1119.1,528.4 1120.0,530.1 1120.9,532.2 1121.8,527.9 1122.7,532.5 1123.5,526.7 1124.4,520.7 1125.3,514.0 1126.2,507.8 1127.1,513.9 1127.9,520.1 1128.8,526.2 1129.7,532.2 1130.6,532.3 1131.4,531.9 1132.3,532.3 1133.2,527.6 1134.1,531.7 1135.0,533.4 1135.8,533.4 1136.7,528.1 1137.6,522.9 1138.5,528.4 1139.4,532.6 1140.2,532.0 1141.1,533.4 1142.0,530.8 1142.9,532.8 1143.7,528.8 1144.6,525.0 1145.5,521.0 1146.4,517.1 1147.3,513.7 1148.1,510.1 1149.0,513.4 1149.9,517.3 1150.8,521.2 1151.7,524.4 1152.5,528.7 1153.4,533.5 1154.3,532.6 1155.2,532.2 1156.0,528.0 1156.9,522.3 1157.8,517.3 1158.7,523.0 1159.6,528.2 1160.4,532.5 1161.3,533.7 1162.2,532.7 1163.1,527.5 1164.0,522.3 1164.8,527.2 1165.7,528.6 1166.6,532.4 1167.5,532.3 1168.3,527.9 1169.2,532.1 1170.1,533.4 1171.0,533.2 1171.9,532.5 1172.7,532.6 1173.6,533.0 1174.5,526.8 1175.4,520.7 1176.2,513.6 1177.1,519.9 1178.0,527.0 1178.9,530.9 1179.8,532.3 1180.6,532.1 1181.5,532.0 1182.4,531.7 1183.3,527.4 1184.2,533.4 1185.0,531.6 1185.9,533.1 1186.8,533.5 1187.7,520.8 1188.5,507.9 1189.4,520.0 1190.3,532.3 1191.2,532.7 1192.1,532.1 1192.9,525.3 1193.8,516.7 1194.7,524.7 1195.6,533.0 1196.5,528.0 1197.3,531.7 1198.2,531.8 1199.1,533.3 1200.0,530.3 1200.8,526.8 1201.7,524.4 1202.6,521.4 1203.5,523.1 1204.4,527.1 1205.2,530.1 1206.1,525.6 1207.0,533.6 1207.9,533.1 1208.8,530.5 1209.6,533.6 1210.5,531.9 1211.4,532.5 1212.3,521.9 1213.1,510.4 1214.0,522.4 1214.9,530.8 1215.8,525.8 1216.7,531.7 1217.5,532.7 1218.4,533.3 1219.3,532.2 1220.2,533.4 1221.1,527.3 1221.9,521.2 1222.8,515.0 1223.7,509.2 1224.6,515.0 1225.4,520.4 1226.3,526.8 1227.2,528.1 1228.1,529.1 1229.0,533.0 1229.8,532.7 1230.7,531.6 1231.6,532.0 1232.5,508.2 1233.4,531.9 1234.2,533.2 1235.1,532.1 1236.0,530.3 1236.9,528.2 1237.7,526.3 1238.6,524.3 1239.5,521.6 1240.4,524.2 1241.3,526.3 1242.1,527.4 1243.0,531.2 1243.9,532.3 1244.8,533.6 1245.6,533.5 1246.5,532.1 1247.4,533.2 1248.3,531.9 1249.2,532.3 1250.0,528.4 1250.9,525.1 1251.8,521.5 1252.7,517.7 1253.6,520.9 1254.4,525.4 1255.3,528.2 1256.2,532.7 1257.1,532.1 1257.9,532.3 1258.8,528.9 1259.7,525.8 1260.6,521.5 1261.5,518.7 1262.3,521.7 1263.2,525.2 1264.1,528.5 1265.0,532.0 1265.9,533.0 1266.7,532.2 1267.6,532.8 1268.5,529.2 1269.4,525.9 1270.2,522.9 1271.1,519.0 1272.0,515.2 1272.9,518.9 1273.8,522.1 1274.6,526.1 1275.5,529.4 1276.4,532.4 1277.3,532.7 1278.2,531.7 1279.0,533.0 1279.9,528.5 1280.8,525.3 1281.7,521.9 1282.5,518.1 1283.4,522.1 1284.3,526.2 1285.2,529.9 1286.1,532.0 1286.9,533.7 1287.8,527.4 1288.7,529.1 1289.6,533.6 1290.5,528.8 1291.3,533.6 1292.2,532.7 1293.1,526.3 1294.0,533.4 1294.8,532.5 1295.7,525.6 1296.6,518.4 1297.5,511.8 1298.4,518.1 1299.2,526.4 1300.1,533.4 1301.0,533.4 1301.9,533.3 1302.8,528.9 1303.6,524.0 1304.5,520.4 1305.4,524.7 1306.3,528.5 1307.1,533.3 1308.0,532.6 1308.9,532.6 1309.8,530.2 1310.7,528.9 1311.5,527.3 1312.4,525.1 1313.3,523.5 1314.2,525.3 1315.0,526.3 1315.9,528.5 1316.8,530.8 1317.7,531.8 1318.6,533.0 1319.4,531.8 1320.3,532.3 1321.2,525.5 1322.1,520.0 1323.0,513.4 1323.8,519.6 1324.7,526.5 1325.6,532.0 1326.5,533.8 1327.3,531.8 1328.2,531.8 1329.1,533.0 1330.0,533.5 1330.9,531.8 1331.7,532.9 1332.6,532.4 1333.5,529.2 1334.4,526.5 1335.3,523.5 1336.1,520.3 1337.0,516.0 1337.9,513.1 1338.8,516.2 1339.6,519.5 1340.5,523.3 1341.4,525.8 1342.3,529.7 1343.2,533.2 1344.0,532.2 1344.9,532.1 1345.8,530.6 1346.7,533.1 1347.6,530.0 1348.4,526.2 1349.3,522.5 1350.2,526.8 1351.1,530.0 1351.9,533.4 1352.8,525.2 1353.7,532.0 1354.6,531.7 1355.5,532.9 1356.3,532.1 1357.2,533.2 1358.1,527.9 1359.0,522.2 1359.9,517.4 1360.7,512.9 1361.6,518.0 1362.5,522.6 1363.4,527.9 1364.2,532.5 1365.1,531.7" fill="none" stroke="#0080ff"/>
<path d="M101 534L1362 513.5" stroke="#0080ff"/>
<rect x="97.15" y="481.15" width="12.5" height="12.5" fill="#00eeee"/>
<rect x="134.15" y="481.15" width="12.5" height="12.5" fill="#00eeee"/>
<rect x="200.75" y="481.15" width="12.5" height="12.5" fill="#00eeee"/>
<rect x="265.25" y="481.15" width="12.5" height="12.5" fill="#00eeee"/>
<rect x="301.15" y="481.15" width="12.5" height="12.5" fill="#00eeee"/>
<rect x="353.15" y="481.15" width="12.5" height="12.5" fill="#00eeee"/>
<rect x="355.35" y="481.15" width="12.5" height="12.5" fill="#00eeee"/>
<rect x="371.35" y="481.15" width="12.5" height="12.5" fill="#00eeee"/>
<rect x="388.95" y="481.15" width="12.5" height="12.5" fill="#00eeee"/>
<rect x="400.55" y="481.15" width="12.5" height="12.5" fill="#00eeee"/>
<rect x="453.35" y="481.15" width="12.5" height="12.5" fill="#00eeee"/>
<rect x="475.15" y="481.15" width="12.5" height="12.5" fill="#00eeee"/>
<rect x="647.15" y="481.15" width="12.5" height="12.5" fill="#00eeee"/>
<rect x="705.75" y="481.15" width="12.5" height="12.5" fill="#00eeee"/>
<rect x="713.25" y="481.15" width="12.5" height="12.5" fill="#00eeee"/>
<rect x="720.35" y="481.15" width="12.5" height="12.5" fill="#00eeee"/>
<rect x="740.05" y="481.15" width="12.5" height="12.5" fill="#00eeee"/>
<rect x="746.75" y="481.15" width="12.5" height="12.5" fill="#00eeee"/>
<rect x="753.75" y="481.15" width="12.5" height="12.5" fill="#00eeee"/>
<rect x="759.75" y="481.15" width="12.5" height="12.5" fill="#00eeee"/>
<rect x="766.05" y="481.15" width="12.5" height="12.5" fill="#00eeee"/>
<rect x="803.15" y="481.15" width="12.5" height="12.5" fill="#00eeee"/>
<rect x="851.15" y="481.15" width="12.5" height="12.5" fill="#00eeee"/>
<rect x="894.25" y="481.15" width="12.5" height="12.5" fill="#00eeee"/>
<rect x="922.65" y="481.15" width="12.5" height="12.5" fill="#00eeee"/>
<rect x="928.45" y="481.15" width="12.5" height="12.5" fill="#00eeee"/>
<rect x="952.25" y="481.15" width="12.5" height="12.5" fill="#00eeee"/>
<rect x="967.25" y="481.15" width="12.5" height="12.5" fill="#00eeee"/>
<rect x="1060.05" y="481.15" width="12.5" height="12.5" fill="#00eeee"/>
<rect x="1209.35" y="481.15" width="12.5" height="12.5" fill="#00eeee"/>
<rect x="1291.25" y="481.15" width="12.5" height="12.5" fill="#00eeee"/>
<circle cx="105.3" cy="492.7" r="5.5" fill="none" stroke="#c04000"/><path d="M98.8 492.7h2M109.8 492.7h2M105.3 486.2v2M105.3 497.2v2" stroke="#c04000"/>
<circle cx="151.1" cy="485.6" r="5.5" fill="none" stroke="#c04000"/><path d="M144.6 485.6h2M155.6 485.6h2M151.1 479.1v2M151.1 490.1v2" stroke="#c04000"/>
<circle cx="208.6" cy="492" r="5.5" fill="none" stroke="#c04000"/><path d="M202.1 492h2M213.1 492h2M208.6 485.5v2M208.6 496.5v2" stroke="#c04000"/>
<circle cx="254.6" cy="495.3" r="5.5" fill="none" stroke="#c04000"/><path d="M248.1 495.3h2M259.1 495.3h2M254.6 488.8v2M254.6 499.8v2" stroke="#c04000"/>
<circle cx="261.7" cy="488.9" r="5.5" fill="none" stroke="#c04000"/><path d="M255.2 488.9h2M266.2 488.9h2M261.7 482.4v2M261.7 493.4v2" stroke="#c04000"/>
<circle cx="307.4" cy="304.5" r="5.5" fill="none" stroke="#c04000"/><path d="M300.9 304.5h2M311.9 304.5h2M307.4 298.0v2M307.4 309.0v2" stroke="#c04000"/>
<circle cx="314" cy="473.2" r="5.5" fill="none" stroke="#c04000"/><path d="M307.5 473.2h2M318.5 473.2h2M314 466.7v2M314 477.7v2" stroke="#c04000"/>
<circle cx="360.2" cy="304.4" r="5.5" fill="none" stroke="#c04000"/><path d="M353.7 304.4h2M364.7 304.4h2M360.2 297.9v2M360.2 308.9v2" stroke="#c04000"/>
<circle cx="366.4" cy="485" r="5.5" fill="none" stroke="#c04000"/><path d="M359.9 485h2M370.9 485h2M366.4 478.5v2M366.4 489.5v2" stroke="#c04000"/>
<circle cx="413.6" cy="437.5" r="5.5" fill="none" stroke="#c04000"/><path d="M407.1 437.5h2M418.1 437.5h2M413.6 431.0v2M413.6 442.0v2" stroke="#c04000"/>
<circle cx="419.6" cy="491.4" r="5.5" fill="none" stroke="#c04000"/><path d="M413.1 491.4h2M424.1 491.4h2M419.6 484.9v2M419.6 495.9v2" stroke="#c04000"/>
<circle cx="466" cy="491.4" r="5.5" fill="none" stroke="#c04000"/><path d="M459.5 491.4h2M470.5 491.4h2M466 484.9v2M466 495.9v2" stroke="#c04000"/>
<circle cx="472.5" cy="494.2" r="5.5" fill="none" stroke="#c04000"/><path d="M466.0 494.2h2M477.0 494.2h2M472.5 487.7v2M472.5 498.7v2" stroke="#c04000"/>
<circle cx="518.6" cy="495.7" r="5.5" fill="none" stroke="#c04000"/><path d="M512.1 495.7h2M523.1 495.7h2M518.6 489.2v2M518.6 500.2v2" stroke="#c04000"/>
<circle cx="524.6" cy="494.9" r="5.5" fill="none" stroke="#c04000"/><path d="M518.1 494.9h2M529.1 494.9h2M524.6 488.4v2M524.6 499.4v2" stroke="#c04000"/>
<circle cx="571.7" cy="490.6" r="5.5" fill="none" stroke="#c04000"/><path d="M565.2 490.6h2M576.2 490.6h2M571.7 484.1v2M571.7 495.1v2" stroke="#c04000"/>
<circle cx="577.5" cy="488.4" r="5.5" fill="none" stroke="#c04000"/><path d="M571.0 488.4h2M582.0 488.4h2M577.5 481.9v2M577.5 492.9v2" stroke="#c04000"/>
<circle cx="624.6" cy="477" r="5.5" fill="none" stroke="#c04000"/><path d="M618.1 477h2M629.1 477h2M624.6 470.5v2M624.6 481.5v2" stroke="#c04000"/>
<circle cx="630.6" cy="479.9" r="5.5" fill="none" stroke="#c04000"/><path d="M624.1 479.9h2M635.1 479.9h2M630.6 473.4v2M630.6 484.4v2" stroke="#c04000"/>
<circle cx="676.1" cy="488.2" r="5.5" fill="none" stroke="#c04000"/><path d="M669.6 488.2h2M680.6 488.2h2M676.1 481.7v2M676.1 492.7v2" stroke="#c04000"/>
<circle cx="683.3" cy="468.1" r="5.5" fill="none" stroke="#c04000"/><path d="M676.8 468.1h2M687.8 468.1h2M683.3 461.6v2M683.3 472.6v2" stroke="#c04000"/>
<circle cx="729.8" cy="304.6" r="5.5" fill="none" stroke="#c04000"/><path d="M723.3 304.6h2M734.3 304.6h2M729.8 298.1v2M729.8 309.1v2" stroke="#c04000"/>
<circle cx="735.8" cy="304.6" r="5.5" fill="none" stroke="#c04000"/><path d="M729.3 304.6h2M740.3 304.6h2M735.8 298.1v2M735.8 309.1v2" stroke="#c04000"/>
<circle cx="782.3" cy="442.3" r="5.5" fill="none" stroke="#c04000"/><path d="M775.8 442.3h2M786.8 442.3h2M782.3 435.8v2M782.3 446.8v2" stroke="#c04000"/>
<circle cx="788.3" cy="488" r="5.5" fill="none" stroke="#c04000"/><path d="M781.8 488h2M792.8 488h2M788.3 481.5v2M788.3 492.5v2" stroke="#c04000"/>
<circle cx="835" cy="424.6" r="5.5" fill="none" stroke="#c04000"/><path d="M828.5 424.6h2M839.5 424.6h2M835 418.1v2M835 429.1v2" stroke="#c04000"/>
<circle cx="841.4" cy="425.5" r="5.5" fill="none" stroke="#c04000"/><path d="M834.9 425.5h2M845.9 425.5h2M841.4 419.0v2M841.4 430.0v2" stroke="#c04000"/>
<circle cx="887.4" cy="439.2" r="5.5" fill="none" stroke="#c04000"/><path d="M880.9 439.2h2M891.9 439.2h2M887.4 432.7v2M887.4 443.7v2" stroke="#c04000"/>
<circle cx="893.2" cy="458" r="5.5" fill="none" stroke="#c04000"/><path d="M886.7 458h2M897.7 458h2M893.2 451.5v2M893.2 462.5v2" stroke="#c04000"/>
<circle cx="940.4" cy="441.1" r="5.5" fill="none" stroke="#c04000"/><path d="M933.9 441.1h2M944.9 441.1h2M940.4 434.6v2M940.4 445.6v2" stroke="#c04000"/>
<circle cx="946.2" cy="499.4" r="5.5" fill="none" stroke="#c04000"/><path d="M939.7 499.4h2M950.7 499.4h2M946.2 492.9v2M946.2 503.9v2" stroke="#c04000"/>
<circle cx="993.3" cy="426.3" r="5.5" fill="none" stroke="#c04000"/><path d="M986.8 426.3h2M997.8 426.3h2M993.3 419.8v2M993.3 430.8v2" stroke="#c04000"/>
<circle cx="999.3" cy="444.4" r="5.5" fill="none" stroke="#c04000"/><path d="M992.8 444.4h2M1003.8 444.4h2M999.3 437.9v2M999.3 448.9v2" stroke="#c04000"/>
<circle cx="1045.3" cy="435.4" r="5.5" fill="none" stroke="#c04000"/><path d="M1038.8 435.4h2M1049.8 435.4h2M1045.3 428.9v2M1045.3 439.9v2" stroke="#c04000"/>
<circle cx="1052.2" cy="446.1" r="5.5" fill="none" stroke="#c04000"/><path d="M1045.7 446.1h2M1056.7 446.1h2M1052.2 439.6v2M1052.2 450.6v2" stroke="#c04000"/>
<circle cx="1098" cy="493.2" r="5.5" fill="none" stroke="#c04000"/><path d="M1091.5 493.2h2M1102.5 493.2h2M1098 486.7v2M1098 497.7v2" stroke="#c04000"/>
<circle cx="1104.3" cy="484.2" r="5.5" fill="none" stroke="#c04000"/><path d="M1097.8 484.2h2M1108.8 484.2h2M1104.3 477.7v2M1104.3 488.7v2" stroke="#c04000"/>
<circle cx="1151.2" cy="471.3" r="5.5" fill="none" stroke="#c04000"/><path d="M1144.7 471.3h2M1155.7 471.3h2M1151.2 464.8v2M1151.2 475.8v2" stroke="#c04000"/>
<circle cx="1157.3" cy="464.1" r="5.5" fill="none" stroke="#c04000"/><path d="M1150.8 464.1h2M1161.8 464.1h2M1157.3 457.6v2M1157.3 468.6v2" stroke="#c04000"/>
<circle cx="1203.4" cy="467.5" r="5.5" fill="none" stroke="#c04000"/><path d="M1196.9 467.5h2M1207.9 467.5h2M1203.4 461.0v2M1203.4 472.0v2" stroke="#c04000"/>
<circle cx="1210.3" cy="440.3" r="5.5" fill="none" stroke="#c04000"/><path d="M1203.8 440.3h2M1214.8 440.3h2M1210.3 433.8v2M1210.3 444.8v2" stroke="#c04000"/>
<circle cx="1256.4" cy="473.5" r="5.5" fill="none" stroke="#c04000"/><path d="M1249.9 473.5h2M1260.9 473.5h2M1256.4 467.0v2M1256.4 478.0v2" stroke="#c04000"/>
<circle cx="1262.4" cy="469.2" r="5.5" fill="none" stroke="#c04000"/><path d="M1255.9 469.2h2M1266.9 469.2h2M1262.4 462.7v2M1262.4 473.7v2" stroke="#c04000"/>
<circle cx="1308.9" cy="473.9" r="5.5" fill="none" stroke="#c04000"/><path d="M1302.4 473.9h2M1313.4 473.9h2M1308.9 467.4v2M1308.9 478.4v2" stroke="#c04000"/>
<circle cx="1315.3" cy="466" r="5.5" fill="none" stroke="#c04000"/><path d="M1308.8 466h2M1319.8 466h2M1315.3 459.5v2M1315.3 470.5v2" stroke="#c04000"/>
<circle cx="1362.5" cy="450.4" r="5.5" fill="none" stroke="#c04000"/><path d="M1356.0 450.4h2M1367.0 450.4h2M1362.5 443.9v2M1362.5 454.9v2" stroke="#c04000"/>
<circle cx="105.3" cy="533.0" r="5.8" fill="#c8c800"/>
<circle cx="151.1" cy="533.0" r="5.8" fill="#c8c800"/>
<circle cx="208.6" cy="533.0" r="5.8" fill="#c8c800"/>
<circle cx="254.6" cy="533.0" r="5.8" fill="#c8c800"/>
<circle cx="261.7" cy="530.7" r="5.8" fill="#c8c800"/>
<circle cx="307.4" cy="533.0" r="5.8" fill="#c8c800"/>
<circle cx="314" cy="527.7" r="5.8" fill="#c8c800"/>
<circle cx="360.2" cy="533.0" r="5.8" fill="#c8c800"/>
<circle cx="366.4" cy="533.0" r="5.8" fill="#c8c800"/>
<circle cx="413.6" cy="533.0" r="5.8" fill="#c8c800"/>
<circle cx="419.6" cy="533.0" r="5.8" fill="#c8c800"/>
<circle cx="466" cy="533.0" r="5.8" fill="#c8c800"/>
<circle cx="472.5" cy="533.0" r="5.8" fill="#c8c800"/>
<circle cx="518.6" cy="533.0" r="5.8" fill="#c8c800"/>
<circle cx="524.6" cy="533.0" r="5.8" fill="#c8c800"/>
<circle cx="571.7" cy="533.0" r="5.8" fill="#c8c800"/>
<circle cx="577.5" cy="533.0" r="5.8" fill="#c8c800"/>
<circle cx="624.6" cy="533.0" r="5.8" fill="#c8c800"/>
<circle cx="630.6" cy="533.0" r="5.8" fill="#c8c800"/>
<circle cx="676.1" cy="533.0" r="5.8" fill="#c8c800"/>
<circle cx="683.3" cy="533.0" r="5.8" fill="#c8c800"/>
<circle cx="729.8" cy="533.0" r="5.8" fill="#c8c800"/>
<circle cx="735.8" cy="533.0" r="5.8" fill="#c8c800"/>
<circle cx="782.3" cy="533.0" r="5.8" fill="#c8c800"/>
<circle cx="788.3" cy="531" r="5.8" fill="#c8c800"/>
<circle cx="835" cy="522.4" r="5.8" fill="#c8c800"/>
<circle cx="841.4" cy="533.0" r="5.8" fill="#c8c800"/>
<circle cx="887.4" cy="533.0" r="5.8" fill="#c8c800"/>
<circle cx="893.2" cy="533.0" r="5.8" fill="#c8c800"/>
<circle cx="940.4" cy="533.0" r="5.8" fill="#c8c800"/>
<circle cx="946.2" cy="533.0" r="5.8" fill="#c8c800"/>
<circle cx="993.3" cy="533.0" r="5.8" fill="#c8c800"/>
<circle cx="999.3" cy="533.0" r="5.8" fill="#c8c800"/>
<circle cx="1045.3" cy="533.0" r="5.8" fill="#c8c800"/>
<circle cx="1052.2" cy="533.0" r="5.8" fill="#c8c800"/>
<circle cx="1098" cy="533.0" r="5.8" fill="#c8c800"/>
<circle cx="1104.5" cy="309.3" r="5.8" fill="#c8c800"/>
<circle cx="1151.2" cy="533.0" r="5.8" fill="#c8c800"/>
<circle cx="1157.3" cy="533.0" r="5.8" fill="#c8c800"/>
<circle cx="1203.4" cy="533.0" r="5.8" fill="#c8c800"/>
<circle cx="1210.3" cy="533.0" r="5.8" fill="#c8c800"/>
<circle cx="1256.4" cy="533.0" r="5.8" fill="#c8c800"/>
<circle cx="1262.4" cy="533.0" r="5.8" fill="#c8c800"/>
<circle cx="1308.9" cy="533.0" r="5.8" fill="#c8c800"/>
<circle cx="1315.3" cy="533.0" r="5.8" fill="#c8c800"/>
<circle cx="1362.5" cy="533.0" r="5.8" fill="#c8c800"/>
<polygon points="139.6,455.97 131.27,468.47 147.93,468.47" fill="none" stroke="#4169e1"/>
<polygon points="206.4,455.97 198.07,468.47 214.73,468.47" fill="none" stroke="#4169e1"/>
<polygon points="215,455.97 206.67,468.47 223.33,468.47" fill="none" stroke="#4169e1"/>
<polygon points="220.3,455.97 211.97,468.47 228.63,468.47" fill="none" stroke="#4169e1"/>
<polygon points="242.4,455.97 234.07,468.47 250.73,468.47" fill="none" stroke="#4169e1"/>
<polygon points="264.3,455.97 255.97,468.47 272.63,468.47" fill="none" stroke="#4169e1"/>
<polygon points="288.9,455.97 280.57,468.47 297.23,468.47" fill="none" stroke="#4169e1"/>
<polygon points="293.2,455.97 284.87,468.47 301.53,468.47" fill="none" stroke="#4169e1"/>
<polygon points="329,455.97 320.67,468.47 337.33,468.47" fill="none" stroke="#4169e1"/>
<polygon points="336.5,455.97 328.17,468.47 344.83,468.47" fill="none" stroke="#4169e1"/>
<polygon points="348.4,455.97 340.07,468.47 356.73,468.47" fill="none" stroke="#4169e1"/>
<polygon points="350,455.97 341.67,468.47 358.33,468.47" fill="none" stroke="#4169e1"/>
<polygon points="359.7,455.97 351.37,468.47 368.03,468.47" fill="none" stroke="#4169e1"/>
<polygon points="366.7,455.97 358.37,468.47 375.03,468.47" fill="none" stroke="#4169e1"/>
<polygon points="372.4,455.97 364.07,468.47 380.73,468.47" fill="none" stroke="#4169e1"/>
<polygon points="384.7,455.97 376.37,468.47 393.03,468.47" fill="none" stroke="#4169e1"/>
<polygon points="389.5,455.97 381.17,468.47 397.83,468.47" fill="none" stroke="#4169e1"/>
<polygon points="458.6,455.97 450.27,468.47 466.93,468.47" fill="none" stroke="#4169e1"/>
<polygon points="516.4,455.97 508.07,468.47 524.73,468.47" fill="none" stroke="#4169e1"/>
<polygon points="528.2,455.97 519.87,468.47 536.53,468.47" fill="none" stroke="#4169e1"/>
<polygon points="531.4,455.97 523.07,468.47 539.73,468.47" fill="none" stroke="#4169e1"/>
<polygon points="589.3,455.97 580.97,468.47 597.63,468.47" fill="none" stroke="#4169e1"/>
<polygon points="613.9,455.97 605.57,468.47 622.23,468.47" fill="none" stroke="#4169e1"/>
<polygon points="653.3,455.97 644.97,468.47 661.63,468.47" fill="none" stroke="#4169e1"/>
<polygon points="674.3,455.97 665.97,468.47 682.63,468.47" fill="none" stroke="#4169e1"/>
<polygon points="691.4,455.97 683.07,468.47 699.73,468.47" fill="none" stroke="#4169e1"/>
<polygon points="698.9,455.97 690.57,468.47 707.23,468.47" fill="none" stroke="#4169e1"/>
<polygon points="717.1,455.97 708.77,468.47 725.43,468.47" fill="none" stroke="#4169e1"/>
<polygon points="737,455.97 728.67,468.47 745.33,468.47" fill="none" stroke="#4169e1"/>
<polygon points="738,455.97 729.67,468.47 746.33,468.47" fill="none" stroke="#4169e1"/>
<polygon points="739,455.97 730.67,468.47 747.33,468.47" fill="none" stroke="#4169e1"/>
<polygon points="744,455.97 735.67,468.47 752.33,468.47" fill="none" stroke="#4169e1"/>
<polygon points="746.5,455.97 738.17,468.47 754.83,468.47" fill="none" stroke="#4169e1"/>
<polygon points="748,455.97 739.67,468.47 756.33,468.47" fill="none" stroke="#4169e1"/>
<polygon points="749.5,455.97 741.17,468.47 757.83,468.47" fill="none" stroke="#4169e1"/>
<polygon points="758.2,455.97 749.87,468.47 766.53,468.47" fill="none" stroke="#4169e1"/>
<polygon points="762.2,455.97 753.87,468.47 770.53,468.47" fill="none" stroke="#4169e1"/>
<polygon points="766,455.97 757.67,468.47 774.33,468.47" fill="none" stroke="#4169e1"/>
<polygon points="767.5,455.97 759.17,468.47 775.83,468.47" fill="none" stroke="#4169e1"/>
<polygon points="774.5,455.97 766.17,468.47 782.83,468.47" fill="none" stroke="#4169e1"/>
<polygon points="775.5,455.97 767.17,468.47 783.83,468.47" fill="none" stroke="#4169e1"/>
<polygon points="777.2,455.97 768.87,468.47 785.53,468.47" fill="none" stroke="#4169e1"/>
<polygon points="827.5,455.97 819.17,468.47 835.83,468.47" fill="none" stroke="#4169e1"/>
<polygon points="929.3,455.97 920.97,468.47 937.63,468.47" fill="none" stroke="#4169e1"/>
<polygon points="971.8,455.97 963.47,468.47 980.13,468.47" fill="none" stroke="#4169e1"/>
<polygon points="1007.6,455.97 999.27,468.47 1015.93,468.47" fill="none" stroke="#4169e1"/>
<polygon points="1044.6,455.97 1036.27,468.47 1052.93,468.47" fill="none" stroke="#4169e1"/>
<polygon points="1066.5,455.97 1058.17,468.47 1074.83,468.47" fill="none" stroke="#4169e1"/>
<polygon points="1138.3,455.97 1129.97,468.47 1146.63,468.47" fill="none" stroke="#4169e1"/>
<polygon points="1294.6,455.97 1286.27,468.47 1302.93,468.47" fill="none" stroke="#4169e1"/>
<polygon points="1338.3,455.97 1329.97,468.47 1346.63,468.47" fill="none" stroke="#4169e1"/>
<polygon points="1348.6,455.97 1340.27,468.47 1356.93,468.47" fill="none" stroke="#4169e1"/>
<polygon points="1355.4,455.97 1347.07,468.47 1363.73,468.47" fill="none" stroke="#4169e1"/>
<path d="M408.35 421.4H420.85M414.6 415.15V427.65" stroke="#008040"/>
<path d="M711.95 421.4H724.45M718.2 415.15V427.65" stroke="#008040"/>
<polygon points="92.97,350.2 163.13,350.2 155.80,362.8 154.80,362.8 101.30,362.8" fill="#306080"/>
<polygon points="197.97,350.2 1373.83,350.2 1366.50,362.8 1365.50,362.8 206.30,362.8" fill="#306080"/>
</g>
<g id="axes" shape-rendering="crispEdges">
<rect x="101.5" y="57.5" width="1265" height="482" fill="none" stroke="#000"/>
</g>
</svg>
</body></html>
